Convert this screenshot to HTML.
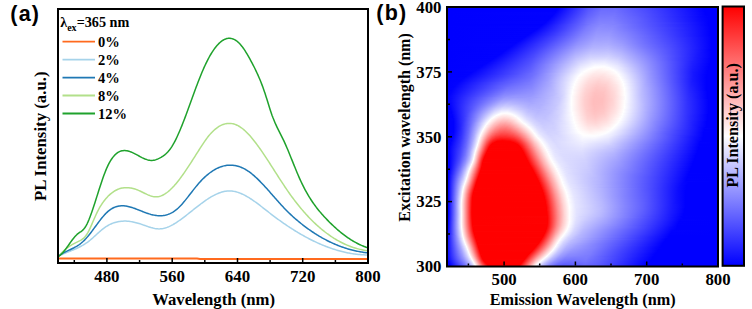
<!DOCTYPE html><html><head><meta charset="utf-8"><style>
html,body{margin:0;padding:0;background:#fff;width:752px;height:309px;overflow:hidden}
#w{position:relative;width:752px;height:309px}
#hm{position:absolute;left:447px;top:7px;width:271px;height:260px;overflow:hidden}
#hm div{height:1px}
</style></head><body><div id="w"><div id="hm"><div style="background:linear-gradient(90deg,#0000ff 0px,#0202ff 112.5px,#5353ff 141.5px,#6969ff 154.5px,#6a6aff 168.5px,#4b4bff 197.5px,#0000ff 256.5px,#0000ff 271px)"></div><div style="background:linear-gradient(90deg,#0000ff 0px,#0101ff 111.5px,#5555ff 141.5px,#6a6aff 154.5px,#6b6bff 168.5px,#4b4bff 198.5px,#0000ff 256.5px,#0000ff 271px)"></div><div style="background:linear-gradient(90deg,#0000ff 0px,#0101ff 110.5px,#5757ff 141.5px,#6c6cff 154.5px,#6c6cff 168.5px,#4b4bff 199.5px,#0000ff 257.5px,#0000ff 271px)"></div><div style="background:linear-gradient(90deg,#0000ff 0px,#0000ff 109.5px,#5959ff 141.5px,#6e6eff 154.5px,#6e6eff 168.5px,#4a4aff 200.5px,#0000ff 257.5px,#0000ff 271px)"></div><div style="background:linear-gradient(90deg,#0000ff 0px,#0000ff 108.5px,#5b5bff 141.5px,#7070ff 154.5px,#6f6fff 168.5px,#4a4aff 201.5px,#0000ff 257.5px,#0000ff 271px)"></div><div style="background:linear-gradient(90deg,#0000ff 0px,#0202ff 108.5px,#5d5dff 141.5px,#7171ff 153.5px,#7171ff 167.5px,#5151ff 196.5px,#0000ff 258.5px,#0000ff 271px)"></div><div style="background:linear-gradient(90deg,#0000ff 0px,#0202ff 107.5px,#5f5fff 141.5px,#7272ff 153.5px,#7373ff 167.5px,#5151ff 197.5px,#0000ff 258.5px,#0000ff 271px)"></div><div style="background:linear-gradient(90deg,#0000ff 0px,#0202ff 106.5px,#6161ff 141.5px,#7474ff 153.5px,#7474ff 167.5px,#5151ff 198.5px,#0000ff 258.5px,#0000ff 271px)"></div><div style="background:linear-gradient(90deg,#0000ff 0px,#0101ff 105.5px,#6161ff 140.5px,#7676ff 153.5px,#7676ff 167.5px,#4f4fff 200.5px,#0000ff 259.5px,#0000ff 271px)"></div><div style="background:linear-gradient(90deg,#0000ff 0px,#0101ff 104.5px,#6363ff 140.5px,#7777ff 152.5px,#7878ff 165.5px,#5e5eff 189.5px,#0404ff 255.5px,#0000ff 262.5px,#0000ff 271px)"></div><div style="background:linear-gradient(90deg,#0000ff 0px,#0101ff 103.5px,#6565ff 140.5px,#7979ff 152.5px,#7a7aff 165.5px,#5e5eff 190.5px,#0606ff 254.5px,#0000ff 260.5px,#0000ff 271px)"></div><div style="background:linear-gradient(90deg,#0000ff 0px,#0101ff 102.5px,#6868ff 140.5px,#7b7bff 152.5px,#7b7bff 165.5px,#5f5fff 190.5px,#0707ff 254.5px,#0000ff 261.5px,#0000ff 271px)"></div><div style="background:linear-gradient(90deg,#0000ff 0px,#0101ff 101.5px,#6a6aff 140.5px,#7d7dff 152.5px,#7d7dff 165.5px,#6060ff 190.5px,#0707ff 254.5px,#0000ff 261.5px,#0000ff 271px)"></div><div style="background:linear-gradient(90deg,#0000ff 0px,#0101ff 100.5px,#6c6cff 140.5px,#7e7eff 152.5px,#7e7eff 165.5px,#6060ff 191.5px,#0909ff 253.5px,#0000ff 261.5px,#0000ff 271px)"></div><div style="background:linear-gradient(90deg,#0000ff 0px,#0202ff 99.5px,#6e6eff 140.5px,#8080ff 152.5px,#8080ff 165.5px,#6060ff 191.5px,#0b0bff 252.5px,#0000ff 261.5px,#0000ff 271px)"></div><div style="background:linear-gradient(90deg,#0000ff 0px,#0202ff 98.5px,#7070ff 140.5px,#8282ff 152.5px,#8181ff 166.5px,#3838ff 222.5px,#0000ff 261.5px,#0000ff 271px)"></div><div style="background:linear-gradient(90deg,#0000ff 0px,#0202ff 97.5px,#7373ff 140.5px,#8484ff 152.5px,#8282ff 166.5px,#3131ff 228.5px,#0000ff 261.5px,#0000ff 271px)"></div><div style="background:linear-gradient(90deg,#0000ff 0px,#0000ff 95.5px,#4d4dff 124.5px,#7e7eff 145.5px,#8888ff 156.5px,#7f7fff 171.5px,#1313ff 248.5px,#0000ff 261.5px,#0000ff 271px)"></div><div style="background:linear-gradient(90deg,#0000ff 0px,#0101ff 94.5px,#3d3dff 117.5px,#7b7bff 142.5px,#8989ff 153.5px,#8585ff 167.5px,#1a1aff 244.5px,#0000ff 261.5px,#0000ff 271px)"></div><div style="background:linear-gradient(90deg,#0000ff 0px,#0202ff 93.5px,#3a3aff 115.5px,#7c7cff 141.5px,#8a8aff 152.5px,#8787ff 166.5px,#1c1cff 243.5px,#0000ff 262.5px,#0000ff 271px)"></div><div style="background:linear-gradient(90deg,#0000ff 0px,#0303ff 92.5px,#3737ff 113.5px,#7c7cff 140.5px,#8c8cff 151.5px,#8989ff 165.5px,#3535ff 227.5px,#0000ff 262.5px,#0000ff 271px)"></div><div style="background:linear-gradient(90deg,#0000ff 0px,#0101ff 90.5px,#3434ff 111.5px,#7c7cff 139.5px,#8e8eff 151.5px,#8b8bff 165.5px,#3030ff 231.5px,#0000ff 262.5px,#0000ff 271px)"></div><div style="background:linear-gradient(90deg,#0000ff 0px,#0202ff 89.5px,#3434ff 110.5px,#7c7cff 138.5px,#8f8fff 150.5px,#8d8dff 164.5px,#6f6fff 187.5px,#1919ff 246.5px,#0000ff 262.5px,#0000ff 271px)"></div><div style="background:linear-gradient(90deg,#0000ff 0px,#0101ff 87.5px,#3434ff 109.5px,#7c7cff 137.5px,#9191ff 150.5px,#8f8fff 164.5px,#7171ff 186.5px,#1b1bff 245.5px,#0000ff 263.5px,#0000ff 271px)"></div><div style="background:linear-gradient(90deg,#0000ff 0px,#0202ff 86.5px,#3737ff 109.5px,#7f7fff 137.5px,#9393ff 150.5px,#9191ff 164.5px,#7373ff 186.5px,#1d1dff 244.5px,#0000ff 263.5px,#0000ff 271px)"></div><div style="background:linear-gradient(90deg,#0000ff 0px,#0101ff 84.5px,#3838ff 108.5px,#7f7fff 136.5px,#9494ff 149.5px,#9494ff 162.5px,#7e7eff 180.5px,#1919ff 247.5px,#0000ff 263.5px,#0000ff 271px)"></div><div style="background:linear-gradient(90deg,#0000ff 0px,#0202ff 83.5px,#3b3bff 108.5px,#8181ff 136.5px,#9696ff 149.5px,#9696ff 162.5px,#7f7fff 180.5px,#1919ff 247.5px,#0000ff 263.5px,#0000ff 271px)"></div><div style="background:linear-gradient(90deg,#0000ff 0px,#0101ff 81.5px,#3b3bff 107.5px,#8282ff 135.5px,#9898ff 149.5px,#9898ff 162.5px,#8181ff 180.5px,#1b1bff 246.5px,#0000ff 263.5px,#0000ff 271px)"></div><div style="background:linear-gradient(90deg,#0000ff 0px,#0202ff 80.5px,#3e3eff 107.5px,#8484ff 135.5px,#9a9aff 149.5px,#9999ff 162.5px,#8484ff 179.5px,#5959ff 207.5px,#0000ff 263.5px,#0000ff 271px)"></div><div style="background:linear-gradient(90deg,#0000ff 0px,#0101ff 78.5px,#4242ff 107.5px,#8585ff 134.5px,#9b9bff 148.5px,#9c9cff 161.5px,#8787ff 178.5px,#5f5fff 204.5px,#1515ff 250.5px,#0000ff 264.5px,#0000ff 271px)"></div><div style="background:linear-gradient(90deg,#0000ff 0px,#0202ff 77.5px,#4545ff 107.5px,#8787ff 134.5px,#9d9dff 148.5px,#9e9eff 161.5px,#8a8aff 177.5px,#6262ff 202.5px,#2424ff 242.5px,#0000ff 264.5px,#0000ff 271px)"></div><div style="background:linear-gradient(90deg,#0000ff 0px,#0101ff 75.5px,#4646ff 106.5px,#8888ff 133.5px,#9f9fff 148.5px,#a0a0ff 161.5px,#8c8cff 177.5px,#6565ff 201.5px,#2d2dff 237.5px,#0000ff 264.5px,#0000ff 271px)"></div><div style="background:linear-gradient(90deg,#0000ff 0px,#0202ff 74.5px,#4646ff 105.5px,#8b8bff 133.5px,#a1a1ff 148.5px,#a1a1ff 162.5px,#8c8cff 178.5px,#6868ff 200.5px,#3232ff 234.5px,#0000ff 264.5px,#0000ff 271px)"></div><div style="background:linear-gradient(90deg,#0000ff 0px,#0101ff 72.5px,#4747ff 104.5px,#8b8bff 132.5px,#a2a2ff 147.5px,#a4a4ff 161.5px,#9292ff 176.5px,#6c6cff 198.5px,#3a3aff 230.5px,#0000ff 264.5px,#0000ff 271px)"></div><div style="background:linear-gradient(90deg,#0000ff 0px,#0202ff 71.5px,#4848ff 103.5px,#8e8eff 132.5px,#a5a5ff 147.5px,#a6a6ff 161.5px,#9494ff 176.5px,#6d6dff 198.5px,#3c3cff 229.5px,#0000ff 264.5px,#0000ff 271px)"></div><div style="background:linear-gradient(90deg,#0000ff 0px,#0101ff 69.5px,#4444ff 100.5px,#8f8fff 131.5px,#a7a7ff 147.5px,#a8a8ff 161.5px,#9696ff 176.5px,#7070ff 197.5px,#4141ff 227.5px,#0000ff 264.5px,#0000ff 271px)"></div><div style="background:linear-gradient(90deg,#0000ff 0px,#0202ff 68.5px,#4545ff 99.5px,#9090ff 130.5px,#a9a9ff 146.5px,#ababff 160.5px,#9b9bff 174.5px,#7171ff 197.5px,#4343ff 226.5px,#0000ff 264.5px,#0000ff 271px)"></div><div style="background:linear-gradient(90deg,#0000ff 0px,#0303ff 67.5px,#4646ff 98.5px,#9393ff 130.5px,#ababff 146.5px,#adadff 160.5px,#9e9eff 174.5px,#7373ff 197.5px,#4646ff 225.5px,#0000ff 264.5px,#0000ff 271px)"></div><div style="background:linear-gradient(90deg,#0000ff 0px,#0202ff 65.5px,#4141ff 95.5px,#9696ff 130.5px,#aeaeff 146.5px,#afafff 161.5px,#9e9eff 175.5px,#7575ff 197.5px,#4949ff 224.5px,#0000ff 264.5px,#0000ff 271px)"></div><div style="background:linear-gradient(90deg,#0000ff 0px,#0202ff 64.5px,#4242ff 94.5px,#9898ff 129.5px,#b0b0ff 146.5px,#b2b2ff 161.5px,#a1a1ff 175.5px,#7676ff 197.5px,#4949ff 224.5px,#0000ff 264.5px,#0000ff 271px)"></div><div style="background:linear-gradient(90deg,#0000ff 0px,#0101ff 62.5px,#4040ff 92.5px,#9b9bff 129.5px,#b2b2ff 145.5px,#b5b5ff 160.5px,#a5a5ff 174.5px,#7878ff 197.5px,#4c4cff 223.5px,#0000ff 264.5px,#0000ff 271px)"></div><div style="background:linear-gradient(90deg,#0000ff 0px,#0202ff 61.5px,#4141ff 91.5px,#9e9eff 129.5px,#b5b5ff 145.5px,#b7b7ff 161.5px,#a6a6ff 175.5px,#7a7aff 197.5px,#4d4dff 223.5px,#0000ff 264.5px,#0000ff 271px)"></div><div style="background:linear-gradient(90deg,#0000ff 0px,#0101ff 59.5px,#4141ff 90.5px,#a0a0ff 128.5px,#b8b8ff 144.5px,#bbbbff 160.5px,#acacff 173.5px,#7b7bff 198.5px,#4e4eff 223.5px,#0000ff 263.5px,#0000ff 271px)"></div><div style="background:linear-gradient(90deg,#0000ff 0px,#0202ff 58.5px,#4242ff 89.5px,#a3a3ff 128.5px,#bbbbff 144.5px,#bdbdff 161.5px,#adadff 174.5px,#7b7bff 199.5px,#4f4fff 223.5px,#0000ff 263.5px,#0000ff 271px)"></div><div style="background:linear-gradient(90deg,#0000ff 0px,#0101ff 56.5px,#4242ff 88.5px,#a6a6ff 128.5px,#bebeff 144.5px,#c0c0ff 161.5px,#b0b0ff 174.5px,#7d7dff 199.5px,#4f4fff 223.5px,#0606ff 260.5px,#0000ff 265.5px,#0000ff 271px)"></div><div style="background:linear-gradient(90deg,#0000ff 0px,#0202ff 55.5px,#4545ff 88.5px,#aaaaff 128.5px,#c1c1ff 143.5px,#c4c4ff 160.5px,#b5b5ff 173.5px,#7d7dff 200.5px,#5050ff 223.5px,#0f0fff 255.5px,#0000ff 264.5px,#0000ff 271px)"></div><div style="background:linear-gradient(90deg,#0000ff 0px,#0202ff 54.5px,#4545ff 87.5px,#adadff 128.5px,#c4c4ff 143.5px,#c7c7ff 161.5px,#b6b6ff 174.5px,#7d7dff 201.5px,#4e4eff 224.5px,#1313ff 253.5px,#0000ff 264.5px,#0000ff 271px)"></div><div style="background:linear-gradient(90deg,#0000ff 0px,#0101ff 52.5px,#4848ff 87.5px,#b1b1ff 128.5px,#c8c8ff 143.5px,#cacaff 161.5px,#b9b9ff 174.5px,#7f7fff 201.5px,#5151ff 223.5px,#1818ff 250.5px,#0000ff 264.5px,#0000ff 271px)"></div><div style="background:linear-gradient(90deg,#0000ff 0px,#0202ff 51.5px,#4848ff 86.5px,#b4b4ff 128.5px,#ccccff 143.5px,#ceceff 161.5px,#bcbcff 174.5px,#7f7fff 202.5px,#5050ff 224.5px,#1818ff 250.5px,#0000ff 264.5px,#0000ff 271px)"></div><div style="background:linear-gradient(90deg,#0000ff 0px,#0101ff 49.5px,#4a4aff 86.5px,#b8b8ff 128.5px,#cfcfff 143.5px,#d1d1ff 161.5px,#bfbfff 174.5px,#8181ff 202.5px,#5353ff 223.5px,#1c1cff 248.5px,#0000ff 264.5px,#0000ff 271px)"></div><div style="background:linear-gradient(90deg,#0000ff 0px,#0202ff 48.5px,#4a4aff 85.5px,#bdbdff 129.5px,#d3d3ff 143.5px,#d6d6ff 160.5px,#c6c6ff 172.5px,#8080ff 203.5px,#4e4eff 225.5px,#1b1bff 248.5px,#0000ff 264.5px,#0000ff 271px)"></div><div style="background:linear-gradient(90deg,#0000ff 0px,#0101ff 46.5px,#4d4dff 85.5px,#c1c1ff 129.5px,#d7d7ff 143.5px,#dadaff 159.5px,#cbcbff 171.5px,#8080ff 204.5px,#4747ff 228.5px,#1717ff 250.5px,#0000ff 263.5px,#0000ff 271px)"></div><div style="background:linear-gradient(90deg,#0000ff 0px,#0202ff 45.5px,#4f4fff 85.5px,#c4c4ff 129.5px,#dbdbff 143.5px,#dfdfff 158.5px,#d1d1ff 170.5px,#8181ff 204.5px,#4747ff 228.5px,#1919ff 249.5px,#0000ff 263.5px,#0000ff 271px)"></div><div style="background:linear-gradient(90deg,#0000ff 0px,#0101ff 43.5px,#4f4fff 84.5px,#cacaff 130.5px,#e1e1ff 144.5px,#e3e3ff 158.5px,#d4d4ff 170.5px,#8383ff 204.5px,#4545ff 229.5px,#1818ff 249.5px,#0000ff 263.5px,#0000ff 271px)"></div><div style="background:linear-gradient(90deg,#0000ff 0px,#0202ff 42.5px,#5151ff 84.5px,#ceceff 130.5px,#e5e5ff 144.5px,#e8e8ff 157.5px,#d8d8ff 170.5px,#8282ff 205.5px,#1f1fff 245.5px,#0000ff 263.5px,#0000ff 271px)"></div><div style="background:linear-gradient(90deg,#0000ff 0px,#0202ff 40.5px,#5353ff 84.5px,#d3d3ff 131.5px,#eaeaff 145.5px,#ececff 157.5px,#dbdbff 170.5px,#8383ff 205.5px,#1f1fff 245.5px,#0000ff 263.5px,#0000ff 271px)"></div><div style="background:linear-gradient(90deg,#0000ff 0px,#0202ff 39.5px,#5353ff 83.5px,#d9d9ff 132.5px,#efefff 146.5px,#f0f0ff 157.5px,#dfdfff 170.5px,#8484ff 205.5px,#1e1eff 245.5px,#0000ff 262.5px,#0000ff 271px)"></div><div style="background:linear-gradient(90deg,#0000ff 0px,#0202ff 37.5px,#5555ff 83.5px,#a1a1ff 110.5px,#e1e1ff 134.5px,#f5f5ff 148.5px,#f3f3ff 159.5px,#dedeff 172.5px,#8888ff 204.5px,#1e1eff 245.5px,#0000ff 262.5px,#0000ff 271px)"></div><div style="background:linear-gradient(90deg,#0000ff 0px,#0101ff 35.5px,#5757ff 83.5px,#9797ff 106.5px,#e2e2ff 133.5px,#f8f8ff 147.5px,#f9f9ff 157.5px,#e6e6ff 170.5px,#8989ff 204.5px,#1d1dff 245.5px,#0000ff 262.5px,#0000ff 271px)"></div><div style="background:linear-gradient(90deg,#0000ff 0px,#0202ff 34.5px,#5959ff 83.5px,#9393ff 104.5px,#e6e6ff 133.5px,#fcfcff 147.5px,#fdfdff 157.5px,#e9e9ff 170.5px,#8a8aff 204.5px,#1c1cff 245.5px,#0000ff 261.5px,#0000ff 271px)"></div><div style="background:linear-gradient(90deg,#0000ff 0px,#0101ff 32.5px,#5b5bff 83.5px,#8f8fff 102.5px,#e9e9ff 133.5px,#ffffff 146.5px,#fffcfc 156.5px,#fdfdff 161.5px,#e5e5ff 173.5px,#8d8dff 203.5px,#1c1cff 245.5px,#0000ff 261.5px,#0000ff 271px)"></div><div style="background:linear-gradient(90deg,#0000ff 0px,#0202ff 31.5px,#5d5dff 83.5px,#8e8eff 101.5px,#ededff 133.5px,#ffffff 143.5px,#fff8f8 154.5px,#fdfdff 163.5px,#e2e2ff 175.5px,#8e8eff 203.5px,#1b1bff 245.5px,#0000ff 261.5px,#0000ff 271px)"></div><div style="background:linear-gradient(90deg,#0000ff 0px,#0202ff 29.5px,#5f5fff 83.5px,#9090ff 101.5px,#f0f0ff 133.5px,#fffefe 141.5px,#fff4f4 152.5px,#fffdfd 163.5px,#fcfcff 166.5px,#d5d5ff 180.5px,#8f8fff 203.5px,#1a1aff 245.5px,#0000ff 261.5px,#0000ff 271px)"></div><div style="background:linear-gradient(90deg,#0000ff 0px,#0303ff 28.5px,#6161ff 83.5px,#9292ff 101.5px,#f3f3ff 133.5px,#fffefe 139.5px,#fff1f1 151.5px,#fff8f8 162.5px,#ffffff 166.5px,#d7d7ff 180.5px,#9090ff 203.5px,#1a1aff 245.5px,#0000ff 260.5px,#0000ff 271px)"></div><div style="background:linear-gradient(90deg,#0000ff 0px,#0202ff 26.5px,#6363ff 83.5px,#9090ff 100.5px,#f8f8ff 134.5px,#ffffff 137.5px,#ffeeee 149.5px,#fff1f1 159.5px,#fefeff 168.5px,#c2c2ff 187.5px,#8383ff 208.5px,#1919ff 245.5px,#0000ff 260.5px,#0000ff 271px)"></div><div style="background:linear-gradient(90deg,#0000ff 0px,#0101ff 24.5px,#6565ff 83.5px,#9292ff 100.5px,#fbfbff 134.5px,#fffcfc 137.5px,#ffebeb 149.5px,#ffeeee 159.5px,#fefeff 169.5px,#8f8fff 204.5px,#1616ff 246.5px,#0000ff 260.5px,#0000ff 271px)"></div><div style="background:linear-gradient(90deg,#0000ff 0px,#0202ff 23.5px,#5050ff 70.5px,#7575ff 89.5px,#cdcdff 118.5px,#fefeff 134.5px,#ffe9e9 147.5px,#ffe9e9 157.5px,#fffdfd 169.5px,#fbfbff 171.5px,#9292ff 203.5px,#1616ff 246.5px,#0000ff 260.5px,#0000ff 271px)"></div><div style="background:linear-gradient(90deg,#0000ff 0px,#0101ff 21.5px,#4f4fff 68.5px,#7272ff 87.5px,#afafff 108.5px,#ffffff 133.5px,#ffe7e7 146.5px,#ffe5e5 156.5px,#fff6f6 167.5px,#fefeff 171.5px,#9393ff 203.5px,#1616ff 246.5px,#0000ff 259.5px,#0000ff 271px)"></div><div style="background:linear-gradient(90deg,#0000ff 0px,#0202ff 20.5px,#5050ff 66.5px,#6f6fff 85.5px,#a0a0ff 103.5px,#ffffff 132.5px,#ffe5e5 145.5px,#ffe2e2 155.5px,#fff1f1 166.5px,#fffefe 171.5px,#e9e9ff 178.5px,#9797ff 202.5px,#1616ff 246.5px,#0000ff 259.5px,#0000ff 271px)"></div><div style="background:linear-gradient(90deg,#0000ff 0px,#0101ff 18.5px,#5252ff 66.5px,#6f6fff 84.5px,#9f9fff 102.5px,#fefeff 131.5px,#ffe4e4 144.5px,#ffdede 154.5px,#ffecec 165.5px,#ffffff 172.5px,#9898ff 202.5px,#1616ff 246.5px,#0000ff 259.5px,#0000ff 271px)"></div><div style="background:linear-gradient(90deg,#0000ff 0px,#0202ff 17.5px,#5454ff 65.5px,#6f6fff 83.5px,#9d9dff 101.5px,#fdfdff 130.5px,#fff5f5 134.5px,#ffdede 146.5px,#ffdddd 156.5px,#ffefef 167.5px,#fefeff 173.5px,#9898ff 202.5px,#1616ff 246.5px,#0000ff 259.5px,#0000ff 271px)"></div><div style="background:linear-gradient(90deg,#0000ff 0px,#0303ff 16.5px,#5656ff 64.5px,#7171ff 83.5px,#9e9eff 101.5px,#ffffff 130.5px,#ffe1e1 142.5px,#ffd9d9 152.5px,#ffe2e2 162.5px,#fffefe 173.5px,#e3e3ff 181.5px,#9999ff 202.5px,#1818ff 245.5px,#0000ff 259.5px,#0000ff 271px)"></div><div style="background:linear-gradient(90deg,#0000ff 0px,#0202ff 14.5px,#5858ff 63.5px,#7272ff 82.5px,#9d9dff 100.5px,#e5e5ff 122.5px,#fefeff 129.5px,#ffdfdf 142.5px,#ffd6d6 152.5px,#ffe0e0 162.5px,#ffffff 174.5px,#9d9dff 201.5px,#1818ff 245.5px,#0000ff 259.5px,#0000ff 271px)"></div><div style="background:linear-gradient(90deg,#0000ff 0px,#0202ff 13.5px,#5b5bff 63.5px,#7474ff 82.5px,#9e9eff 100.5px,#dfdfff 120.5px,#fffefe 129.5px,#ffdede 141.5px,#ffd4d4 151.5px,#ffdcdc 161.5px,#fff7f7 172.5px,#fffefe 174.5px,#eeeeff 179.5px,#a1a1ff 200.5px,#1919ff 245.5px,#0000ff 259.5px,#0000ff 271px)"></div><div style="background:linear-gradient(90deg,#0000ff 0px,#0202ff 12.5px,#5d5dff 62.5px,#7676ff 82.5px,#a0a0ff 100.5px,#ddddff 119.5px,#fefeff 128.5px,#ffdcdc 141.5px,#ffd1d1 151.5px,#ffdada 161.5px,#fff5f5 172.5px,#ffffff 175.5px,#a2a2ff 200.5px,#1919ff 245.5px,#0000ff 259.5px,#0000ff 271px)"></div><div style="background:linear-gradient(90deg,#0000ff 0px,#0303ff 11.5px,#5454ff 54.5px,#6565ff 67.5px,#7e7eff 85.5px,#acacff 104.5px,#e6e6ff 121.5px,#fffefe 128.5px,#ffdcdc 140.5px,#ffd0d0 150.5px,#ffd6d6 160.5px,#fff0f0 171.5px,#fffefe 175.5px,#a2a2ff 200.5px,#1c1cff 244.5px,#0000ff 259.5px,#0000ff 271px)"></div><div style="background:linear-gradient(90deg,#0000ff 0px,#0303ff 10.5px,#5555ff 53.5px,#6767ff 65.5px,#7e7eff 84.5px,#aaaaff 103.5px,#dfdfff 119.5px,#fefeff 127.5px,#ffd8d8 141.5px,#ffcdcd 151.5px,#ffd6d6 161.5px,#fff6f6 173.5px,#fefeff 176.5px,#aaaaff 198.5px,#1d1dff 244.5px,#0000ff 259.5px,#0000ff 271px)"></div><div style="background:linear-gradient(90deg,#0000ff 0px,#0303ff 9.5px,#5656ff 52.5px,#6969ff 64.5px,#7e7eff 83.5px,#a9a9ff 102.5px,#dcdcff 118.5px,#ffffff 127.5px,#ffdada 139.5px,#ffcccc 149.5px,#ffcfcf 158.5px,#ffe7e7 169.5px,#ffffff 176.5px,#aaaaff 198.5px,#1d1dff 244.5px,#0000ff 259.5px,#0000ff 271px)"></div><div style="background:linear-gradient(90deg,#0000ff 0px,#0303ff 8.5px,#5a5aff 52.5px,#6c6cff 64.5px,#8282ff 84.5px,#acacff 103.5px,#ddddff 118.5px,#fffefe 127.5px,#ffd8d8 139.5px,#ffcaca 149.5px,#ffcece 158.5px,#ffe6e6 169.5px,#fffefe 176.5px,#ababff 198.5px,#1e1eff 244.5px,#0000ff 259.5px,#0000ff 271px)"></div><div style="background:linear-gradient(90deg,#0000ff 0px,#0202ff 7.5px,#5d5dff 52.5px,#7070ff 64.5px,#8484ff 84.5px,#adadff 103.5px,#d9d9ff 117.5px,#fefeff 126.5px,#ffd5d5 140.5px,#ffc8c8 150.5px,#ffcece 159.5px,#ffe8e8 170.5px,#fffdfd 176.5px,#f9f9ff 178.5px,#afafff 197.5px,#2121ff 243.5px,#0000ff 259.5px,#0000ff 271px)"></div><div style="background:linear-gradient(90deg,#0000ff 0px,#0202ff 6.5px,#6f6fff 60.5px,#8686ff 84.5px,#b1b1ff 104.5px,#dadaff 117.5px,#ffffff 126.5px,#ffd8d8 138.5px,#ffc7c7 148.5px,#ffc9c9 157.5px,#ffe1e1 168.5px,#fefeff 177.5px,#b3b3ff 196.5px,#2222ff 243.5px,#0000ff 259.5px,#0000ff 271px)"></div><div style="background:linear-gradient(90deg,#0000ff 0px,#0404ff 6.5px,#7272ff 60.5px,#8888ff 84.5px,#b2b2ff 104.5px,#dadaff 117.5px,#fffefe 126.5px,#ffd6d6 138.5px,#ffc6c6 148.5px,#ffc8c8 157.5px,#ffe0e0 168.5px,#ffffff 177.5px,#b7b7ff 195.5px,#2525ff 242.5px,#0000ff 259.5px,#0000ff 271px)"></div><div style="background:linear-gradient(90deg,#0000ff 0px,#0303ff 5.5px,#7575ff 59.5px,#8c8cff 85.5px,#b7b7ff 106.5px,#dbdbff 117.5px,#fdfdff 125.5px,#fff9f9 127.5px,#ffd2d2 139.5px,#ffc4c4 149.5px,#ffc8c8 158.5px,#ffe2e2 169.5px,#fffefe 177.5px,#b7b7ff 195.5px,#2626ff 242.5px,#0000ff 259.5px,#0000ff 271px)"></div><div style="background:linear-gradient(90deg,#0000ff 0px,#0202ff 4.5px,#7878ff 59.5px,#8e8eff 85.5px,#b8b8ff 106.5px,#dbdbff 117.5px,#fdfdff 125.5px,#ffd1d1 139.5px,#ffc2c2 149.5px,#ffc7c7 158.5px,#ffe1e1 169.5px,#fffefe 177.5px,#b8b8ff 195.5px,#2626ff 242.5px,#0000ff 259.5px,#0000ff 271px)"></div><div style="background:linear-gradient(90deg,#0000ff 0px,#0303ff 4.5px,#7b7bff 58.5px,#9090ff 85.5px,#b9b9ff 106.5px,#d7d7ff 116.5px,#fefeff 125.5px,#ffd3d3 138.5px,#ffc2c2 148.5px,#ffc4c4 157.5px,#ffdddd 168.5px,#fffdfd 177.5px,#f0f0ff 181.5px,#b8b8ff 195.5px,#2727ff 242.5px,#0000ff 260.5px,#0000ff 271px)"></div><div style="background:linear-gradient(90deg,#0000ff 0px,#0404ff 4.5px,#7f7fff 58.5px,#9292ff 85.5px,#bcbcff 107.5px,#dbdbff 117.5px,#ffffff 125.5px,#ffd4d4 137.5px,#ffc1c1 147.5px,#ffc2c2 156.5px,#ffdada 167.5px,#fffdfd 177.5px,#f8f8ff 179.5px,#bcbcff 194.5px,#2727ff 242.5px,#0000ff 260.5px,#0000ff 271px)"></div><div style="background:linear-gradient(90deg,#0000ff 0px,#0303ff 3.5px,#8282ff 57.5px,#8a8aff 70.5px,#9595ff 86.5px,#c1c1ff 109.5px,#dbdbff 117.5px,#fffefe 125.5px,#ffd3d3 137.5px,#ffc0c0 147.5px,#ffc2c2 156.5px,#ffd9d9 167.5px,#fffdfd 177.5px,#f9f9ff 179.5px,#bcbcff 194.5px,#2b2bff 241.5px,#0000ff 260.5px,#0000ff 271px)"></div><div style="background:linear-gradient(90deg,#0000ff 0px,#0404ff 3.5px,#8686ff 57.5px,#8e8eff 69.5px,#9696ff 85.5px,#bdbdff 107.5px,#d7d7ff 116.5px,#fcfcff 124.5px,#fffdfd 125.5px,#ffd2d2 137.5px,#ffc0c0 147.5px,#ffc1c1 156.5px,#ffd9d9 167.5px,#fffdfd 177.5px,#f9f9ff 179.5px,#bcbcff 194.5px,#2b2bff 241.5px,#0000ff 260.5px,#0000ff 271px)"></div><div style="background:linear-gradient(90deg,#0000ff 0px,#0808ff 4.5px,#8989ff 56.5px,#9292ff 67.5px,#9797ff 84.5px,#b9b9ff 105.5px,#d3d3ff 115.5px,#fdfdff 124.5px,#fff8f8 126.5px,#ffcfcf 138.5px,#ffbebe 148.5px,#ffc2c2 157.5px,#ffdbdb 168.5px,#fffdfd 177.5px,#fdfdff 178.5px,#c0c0ff 193.5px,#2c2cff 241.5px,#0000ff 260.5px,#0000ff 271px)"></div><div style="background:linear-gradient(90deg,#0000ff 0px,#0b0bff 5.5px,#8e8eff 56.5px,#9696ff 66.5px,#9898ff 83.5px,#b3b3ff 101.5px,#d0d0ff 114.5px,#fdfdff 124.5px,#ffcece 138.5px,#ffbebe 147.5px,#ffc0c0 156.5px,#ffd8d8 167.5px,#fdfdff 178.5px,#bdbdff 194.5px,#2c2cff 241.5px,#0000ff 260.5px,#0000ff 271px)"></div><div style="background:linear-gradient(90deg,#0000ff 0px,#0c0cff 5.5px,#8383ff 49.5px,#9797ff 59.5px,#9898ff 75.5px,#a0a0ff 89.5px,#c7c7ff 111.5px,#e0e0ff 118.5px,#fefeff 124.5px,#ffd0d0 137.5px,#ffbebe 147.5px,#ffc0c0 156.5px,#ffd8d8 167.5px,#fdfdff 178.5px,#bdbdff 194.5px,#2d2dff 241.5px,#0000ff 260.5px,#0000ff 271px)"></div><div style="background:linear-gradient(90deg,#0000ff 0px,#0909ff 4.5px,#8585ff 48.5px,#9a9aff 57.5px,#9e9eff 67.5px,#9d9dff 83.5px,#b1b1ff 99.5px,#cdcdff 113.5px,#f4f4ff 122.5px,#fefeff 124.5px,#ffd0d0 137.5px,#ffbebe 146.5px,#ffbebe 155.5px,#ffd2d2 165.5px,#fdfdff 178.5px,#bebeff 194.5px,#3030ff 240.5px,#0000ff 260.5px,#0000ff 271px)"></div><div style="background:linear-gradient(90deg,#0000ff 0px,#0a0aff 4.5px,#8383ff 46.5px,#9e9eff 56.5px,#a3a3ff 65.5px,#9f9fff 82.5px,#aeaeff 96.5px,#cbcbff 112.5px,#ebebff 120.5px,#fefeff 124.5px,#ffcfcf 137.5px,#ffbebe 146.5px,#ffbebe 155.5px,#ffd2d2 165.5px,#fdfdff 178.5px,#bebeff 194.5px,#3030ff 240.5px,#0000ff 261.5px,#0000ff 271px)"></div><div style="background:linear-gradient(90deg,#0000ff 0px,#0a0aff 4.5px,#8282ff 44.5px,#a2a2ff 55.5px,#a8a8ff 64.5px,#a1a1ff 82.5px,#afafff 96.5px,#ccccff 112.5px,#ebebff 120.5px,#ffffff 124.5px,#ffcfcf 137.5px,#ffbdbd 146.5px,#ffbebe 155.5px,#ffd2d2 165.5px,#fffdfd 177.5px,#f9f9ff 179.5px,#bbbbff 195.5px,#3030ff 240.5px,#0000ff 261.5px,#0000ff 271px)"></div><div style="background:linear-gradient(90deg,#0000ff 0px,#0a0aff 4.5px,#7171ff 37.5px,#a6a6ff 54.5px,#aeaeff 62.5px,#a3a3ff 83.5px,#b1b1ff 97.5px,#cdcdff 112.5px,#ececff 120.5px,#ffffff 124.5px,#ffcfcf 137.5px,#ffbdbd 146.5px,#ffbebe 155.5px,#ffd3d3 165.5px,#fffdfd 177.5px,#f9f9ff 179.5px,#b8b8ff 196.5px,#3131ff 240.5px,#0000ff 261.5px,#0000ff 271px)"></div><div style="background:linear-gradient(90deg,#0000ff 0px,#0909ff 4.5px,#6a6aff 34.5px,#aaaaff 53.5px,#b4b4ff 61.5px,#a6a6ff 83.5px,#b1b1ff 96.5px,#cbcbff 111.5px,#e8e8ff 119.5px,#ffffff 124.5px,#ffcfcf 137.5px,#ffbdbd 146.5px,#ffbebe 155.5px,#ffd6d6 166.5px,#fffdfd 177.5px,#f9f9ff 179.5px,#b8b8ff 196.5px,#3131ff 240.5px,#0000ff 261.5px,#0000ff 271px)"></div><div style="background:linear-gradient(90deg,#0000ff 0px,#0505ff 3.5px,#6767ff 32.5px,#aeaeff 52.5px,#babaff 60.5px,#b0b0ff 72.5px,#a8a8ff 85.5px,#b7b7ff 100.5px,#cfcfff 112.5px,#f6f6ff 122.5px,#ffffff 124.5px,#ffcfcf 137.5px,#ffbdbd 146.5px,#ffbfbf 155.5px,#ffd6d6 166.5px,#fffdfd 177.5px,#f0f0ff 181.5px,#b2b2ff 198.5px,#3131ff 240.5px,#0000ff 261.5px,#0000ff 271px)"></div><div style="background:linear-gradient(90deg,#0000ff 0px,#0505ff 3.5px,#6363ff 30.5px,#b5b5ff 52.5px,#c0c0ff 59.5px,#b8b8ff 69.5px,#ababff 82.5px,#b0b0ff 94.5px,#cacaff 110.5px,#e9e9ff 119.5px,#ffffff 124.5px,#ffcfcf 137.5px,#ffbdbd 146.5px,#ffbfbf 155.5px,#ffd7d7 166.5px,#fffefe 177.5px,#b2b2ff 198.5px,#3131ff 240.5px,#0000ff 261.5px,#0000ff 271px)"></div><div style="background:linear-gradient(90deg,#0000ff 0px,#0404ff 3.5px,#5e5eff 28.5px,#b9b9ff 51.5px,#c6c6ff 58.5px,#c1c1ff 67.5px,#adadff 82.5px,#b1b1ff 94.5px,#c8c8ff 109.5px,#e5e5ff 118.5px,#ffffff 124.5px,#ffcfcf 137.5px,#ffbebe 146.5px,#ffc0c0 155.5px,#ffd7d7 166.5px,#fffefe 177.5px,#b2b2ff 198.5px,#3434ff 239.5px,#0000ff 261.5px,#0000ff 271px)"></div><div style="background:linear-gradient(90deg,#0000ff 0px,#0303ff 3.5px,#5d5dff 27.5px,#bdbdff 50.5px,#ccccff 57.5px,#c9c9ff 65.5px,#b0b0ff 81.5px,#b1b1ff 92.5px,#c7c7ff 108.5px,#e5e5ff 118.5px,#fefeff 124.5px,#ffcdcd 138.5px,#ffbdbd 147.5px,#ffc2c2 156.5px,#ffdbdb 167.5px,#ffffff 177.5px,#b1b1ff 198.5px,#3434ff 239.5px,#0000ff 261.5px,#0000ff 271px)"></div><div style="background:linear-gradient(90deg,#0000ff 0px,#0202ff 3.5px,#5b5bff 26.5px,#c1c1ff 49.5px,#d3d3ff 56.5px,#d2d2ff 63.5px,#b3b3ff 81.5px,#b2b2ff 92.5px,#c6c6ff 107.5px,#e2e2ff 117.5px,#fefeff 124.5px,#ffcdcd 138.5px,#ffbebe 147.5px,#ffc2c2 156.5px,#ffdcdc 167.5px,#ffffff 177.5px,#b1b1ff 198.5px,#3434ff 239.5px,#0000ff 261.5px,#0000ff 271px)"></div><div style="background:linear-gradient(90deg,#0000ff 0px,#0101ff 3.5px,#5454ff 24.5px,#c5c5ff 48.5px,#d9d9ff 55.5px,#dadaff 62.5px,#b6b6ff 81.5px,#b3b3ff 92.5px,#c6c6ff 107.5px,#e2e2ff 117.5px,#fefeff 124.5px,#ffcece 138.5px,#ffbebe 147.5px,#ffc3c3 156.5px,#ffdddd 167.5px,#fefeff 177.5px,#b1b1ff 198.5px,#3434ff 239.5px,#0000ff 261.5px,#0000ff 271px)"></div><div style="background:linear-gradient(90deg,#0000ff 0px,#0000ff 3.5px,#5151ff 23.5px,#ccccff 48.5px,#e1e1ff 55.5px,#e2e2ff 61.5px,#c6c6ff 74.5px,#b5b5ff 85.5px,#b8b8ff 97.5px,#cdcdff 110.5px,#f2f2ff 121.5px,#fefeff 124.5px,#ffcbcb 139.5px,#ffbfbf 147.5px,#ffc4c4 156.5px,#ffdede 167.5px,#fffdfd 176.5px,#f5f5ff 179.5px,#aaaaff 200.5px,#3434ff 239.5px,#0000ff 261.5px,#0000ff 271px)"></div><div style="background:linear-gradient(90deg,#0000ff 0px,#0303ff 4.5px,#4e4eff 22.5px,#cfcfff 47.5px,#e7e7ff 54.5px,#eaeaff 60.5px,#d8d8ff 69.5px,#bcbcff 81.5px,#b5b5ff 91.5px,#c2c2ff 104.5px,#dcdcff 115.5px,#fdfdff 124.5px,#fff1f1 128.5px,#ffcaca 140.5px,#ffc0c0 148.5px,#ffc7c7 157.5px,#ffe5e5 169.5px,#fffefe 176.5px,#a7a7ff 201.5px,#3434ff 239.5px,#0000ff 261.5px,#0000ff 271px)"></div><div style="background:linear-gradient(90deg,#0000ff 0px,#0101ff 4.5px,#4b4bff 21.5px,#d7d7ff 47.5px,#efefff 54.5px,#f2f2ff 60.5px,#dedeff 69.5px,#bebeff 81.5px,#b7b7ff 91.5px,#c3c3ff 104.5px,#dcdcff 115.5px,#fdfdff 124.5px,#fff9f9 126.5px,#ffcdcd 139.5px,#ffc1c1 147.5px,#ffc6c6 156.5px,#ffe3e3 168.5px,#ffffff 176.5px,#a9a9ff 200.5px,#3434ff 239.5px,#0000ff 261.5px,#0000ff 271px)"></div><div style="background:linear-gradient(90deg,#0000ff 0px,#0000ff 4.5px,#4747ff 20.5px,#dedeff 47.5px,#f7f7ff 54.5px,#fafaff 60.5px,#e7e7ff 68.5px,#c3c3ff 80.5px,#b8b8ff 90.5px,#c0c0ff 102.5px,#dadaff 114.5px,#fffefe 125.5px,#ffcece 139.5px,#ffc2c2 147.5px,#ffc8c8 156.5px,#ffe5e5 168.5px,#fefeff 176.5px,#a8a8ff 200.5px,#3434ff 239.5px,#0000ff 261.5px,#0000ff 271px)"></div><div style="background:linear-gradient(90deg,#0000ff 0px,#0000ff 4.5px,#3e3eff 18.5px,#9494ff 33.5px,#e1e1ff 46.5px,#fdfdff 53.5px,#fffcfc 56.5px,#fcfcff 63.5px,#c7c7ff 80.5px,#babaff 90.5px,#c1c1ff 102.5px,#dadaff 114.5px,#fffefe 125.5px,#ffcfcf 139.5px,#ffc3c3 147.5px,#ffc9c9 156.5px,#ffe6e6 168.5px,#fffefe 175.5px,#9e9eff 203.5px,#3131ff 240.5px,#0000ff 261.5px,#0000ff 271px)"></div><div style="background:linear-gradient(90deg,#0000ff 0px,#0202ff 5.5px,#4444ff 19.5px,#9f9fff 34.5px,#e9e9ff 46.5px,#ffffff 51.5px,#fff3f3 57.5px,#fffbfb 63.5px,#fdfdff 65.5px,#ccccff 79.5px,#bcbcff 89.5px,#c0c0ff 100.5px,#d5d5ff 112.5px,#ffffff 125.5px,#ffd0d0 139.5px,#ffc4c4 147.5px,#ffcccc 157.5px,#ffeeee 170.5px,#ffffff 175.5px,#a4a4ff 201.5px,#3131ff 240.5px,#0000ff 260.5px,#0000ff 271px)"></div><div style="background:linear-gradient(90deg,#0000ff 0px,#0101ff 5.5px,#3f3fff 18.5px,#9696ff 32.5px,#ebebff 45.5px,#ffffff 49.5px,#ffeded 55.5px,#ffeded 60.5px,#fdfdff 67.5px,#d0d0ff 79.5px,#bfbfff 88.5px,#bfbfff 98.5px,#d0d0ff 110.5px,#fbfbff 124.5px,#fefeff 125.5px,#ffcece 140.5px,#ffc6c6 148.5px,#ffd0d0 158.5px,#fff3f3 171.5px,#fdfdff 175.5px,#a0a0ff 202.5px,#3030ff 240.5px,#0000ff 260.5px,#0000ff 271px)"></div><div style="background:linear-gradient(90deg,#0000ff 0px,#0000ff 5.5px,#3f3fff 18.5px,#9393ff 31.5px,#f3f3ff 45.5px,#fdfdff 47.5px,#ffe6e6 54.5px,#ffe4e4 59.5px,#fff2f2 65.5px,#fffefe 68.5px,#d4d4ff 79.5px,#c1c1ff 88.5px,#c0c0ff 98.5px,#d1d1ff 110.5px,#fafaff 124.5px,#fffdfd 126.5px,#ffd0d0 140.5px,#ffc7c7 148.5px,#ffd2d2 158.5px,#fff4f4 171.5px,#ffffff 174.5px,#9c9cff 203.5px,#2d2dff 241.5px,#0000ff 260.5px,#0000ff 271px)"></div><div style="background:linear-gradient(90deg,#0000ff 0px,#0000ff 5.5px,#3535ff 16.5px,#8181ff 28.5px,#f4f4ff 44.5px,#fffefe 46.5px,#ffe3e3 52.5px,#ffdbdb 57.5px,#ffe4e4 63.5px,#fdfdff 70.5px,#d8d8ff 79.5px,#c3c3ff 88.5px,#c1c1ff 98.5px,#d1d1ff 110.5px,#fffefe 126.5px,#ffd1d1 140.5px,#ffc9c9 148.5px,#ffd4d4 158.5px,#fff6f6 171.5px,#fefeff 174.5px,#9b9bff 203.5px,#2d2dff 241.5px,#0000ff 260.5px,#0000ff 271px)"></div><div style="background:linear-gradient(90deg,#0000ff 0px,#0202ff 6.5px,#3b3bff 17.5px,#8c8cff 29.5px,#fcfcff 44.5px,#fffcfc 45.5px,#ffdede 51.5px,#ffd3d3 56.5px,#ffd7d7 61.5px,#fff1f1 68.5px,#fefeff 71.5px,#dcdcff 79.5px,#c6c6ff 88.5px,#c1c1ff 97.5px,#d0d0ff 109.5px,#f6f6ff 123.5px,#fffefe 126.5px,#ffd2d2 140.5px,#ffcbcb 148.5px,#ffd8d8 159.5px,#ffffff 173.5px,#9797ff 204.5px,#2d2dff 241.5px,#0000ff 260.5px,#0000ff 271px)"></div><div style="background:linear-gradient(90deg,#0000ff 0px,#0202ff 6.5px,#3b3bff 17.5px,#8787ff 28.5px,#fdfdff 43.5px,#fff4f4 45.5px,#ffd5d5 51.5px,#ffcaca 56.5px,#ffcece 61.5px,#ffe9e9 68.5px,#ffffff 72.5px,#dcdcff 80.5px,#c7c7ff 89.5px,#c3c3ff 98.5px,#d2d2ff 110.5px,#fbfbff 125.5px,#ffffff 126.5px,#ffd4d4 140.5px,#ffcdcd 148.5px,#ffdada 159.5px,#fefeff 173.5px,#9696ff 204.5px,#2a2aff 242.5px,#0000ff 260.5px,#0000ff 271px)"></div><div style="background:linear-gradient(90deg,#0000ff 0px,#0101ff 6.5px,#3535ff 16.5px,#8282ff 27.5px,#fdfdff 42.5px,#fff3f3 44.5px,#ffd1d1 50.5px,#ffc2c2 55.5px,#ffc3c3 60.5px,#ffd8d8 66.5px,#fffefe 73.5px,#dadaff 82.5px,#c6c6ff 91.5px,#c6c6ff 101.5px,#d9d9ff 113.5px,#fefeff 126.5px,#ffd6d6 140.5px,#ffcfcf 148.5px,#ffdcdc 159.5px,#ffffff 172.5px,#9595ff 204.5px,#2929ff 242.5px,#0000ff 260.5px,#0000ff 271px)"></div><div style="background:linear-gradient(90deg,#0000ff 0px,#0000ff 6.5px,#3636ff 16.5px,#8585ff 27.5px,#fcfcff 41.5px,#fffafa 42.5px,#ffcdcd 49.5px,#ffbbbb 54.5px,#ffb9b9 59.5px,#ffcccc 65.5px,#fffefe 74.5px,#d8d8ff 84.5px,#c7c7ff 92.5px,#c8c8ff 102.5px,#dbdbff 114.5px,#fffefe 127.5px,#ffd8d8 140.5px,#ffd2d2 148.5px,#ffdfdf 159.5px,#fffefe 171.5px,#8787ff 208.5px,#2121ff 245.5px,#0000ff 259.5px,#0000ff 271px)"></div><div style="background:linear-gradient(90deg,#0000ff 0px,#0000ff 6.5px,#3030ff 15.5px,#7878ff 25.5px,#fbfbff 40.5px,#fffafa 41.5px,#ffc9c9 48.5px,#ffb4b4 53.5px,#ffaeae 58.5px,#ffbaba 63.5px,#ffe5e5 71.5px,#fffdfd 75.5px,#f7f7ff 77.5px,#d3d3ff 87.5px,#c7c7ff 95.5px,#cdcdff 106.5px,#e8e8ff 119.5px,#ffffff 127.5px,#ffdada 140.5px,#ffd4d4 148.5px,#ffe1e1 159.5px,#fefeff 171.5px,#8c8cff 206.5px,#2323ff 244.5px,#0000ff 259.5px,#0000ff 271px)"></div><div style="background:linear-gradient(90deg,#0000ff 0px,#0000ff 6.5px,#2a2aff 14.5px,#7272ff 24.5px,#f0f0ff 38.5px,#f9f9ff 39.5px,#fffcfc 40.5px,#ffc6c6 47.5px,#ffaaaa 53.5px,#ffa5a5 58.5px,#ffb2b2 63.5px,#ffdddd 71.5px,#fffbfb 76.5px,#fefeff 77.5px,#d9d9ff 86.5px,#c9c9ff 94.5px,#ccccff 105.5px,#e2e2ff 117.5px,#fefeff 127.5px,#ffdbdb 141.5px,#ffd7d7 149.5px,#ffe8e8 161.5px,#fefeff 170.5px,#8888ff 207.5px,#2020ff 245.5px,#0000ff 259.5px,#0000ff 271px)"></div><div style="background:linear-gradient(90deg,#0000ff 0px,#0000ff 6.5px,#2424ff 13.5px,#6363ff 22.5px,#c6c6ff 33.5px,#fffefe 39.5px,#ffc4c4 46.5px,#ffa4a4 52.5px,#ff9b9b 57.5px,#ffa5a5 62.5px,#ffc8c8 69.5px,#ffffff 78.5px,#d9d9ff 87.5px,#cacaff 95.5px,#ceceff 106.5px,#e7e7ff 119.5px,#fffefe 128.5px,#ffdfdf 140.5px,#ffdada 148.5px,#ffe7e7 159.5px,#ffffff 169.5px,#8484ff 208.5px,#1d1dff 246.5px,#0000ff 259.5px,#0000ff 271px)"></div><div style="background:linear-gradient(90deg,#0000ff 0px,#0000ff 6.5px,#2424ff 13.5px,#6565ff 22.5px,#c0c0ff 32.5px,#fdfdff 38.5px,#ffbbbb 46.5px,#ff9b9b 52.5px,#ff9292 57.5px,#ff9b9b 62.5px,#ffbfbf 69.5px,#fffdfd 79.5px,#d6d6ff 89.5px,#cbcbff 97.5px,#d1d1ff 108.5px,#f1f1ff 123.5px,#ffffff 128.5px,#ffe1e1 140.5px,#ffdddd 149.5px,#ffeded 161.5px,#ffffff 168.5px,#7d7dff 210.5px,#1717ff 248.5px,#0000ff 259.5px,#0000ff 271px)"></div><div style="background:linear-gradient(90deg,#0000ff 0px,#0000ff 6.5px,#2424ff 13.5px,#6767ff 22.5px,#c5c5ff 32.5px,#f9f9ff 37.5px,#fffafa 38.5px,#ffbaba 45.5px,#ff9a9a 50.5px,#ff8a8a 55.5px,#ff8c8c 60.5px,#ffa5a5 66.5px,#fffcfc 80.5px,#fcfcff 81.5px,#dadaff 89.5px,#cdcdff 96.5px,#d0d0ff 107.5px,#ececff 121.5px,#fefeff 128.5px,#ffe3e3 141.5px,#ffe1e1 150.5px,#fff2f2 162.5px,#ffffff 167.5px,#7676ff 212.5px,#1010ff 251.5px,#0000ff 259.5px,#0000ff 271px)"></div><div style="background:linear-gradient(90deg,#0000ff 0px,#0000ff 6.5px,#1f1fff 12.5px,#6060ff 21.5px,#b5b5ff 30.5px,#fffefe 37.5px,#ffb9b9 44.5px,#ff9696 49.5px,#ff8383 54.5px,#ff8181 59.5px,#ff9292 64.5px,#ffc1c1 72.5px,#fffcfc 81.5px,#fdfdff 82.5px,#ddddff 89.5px,#ceceff 96.5px,#cfcfff 106.5px,#e6e6ff 119.5px,#fffefe 129.5px,#ffe6e6 141.5px,#ffe5e5 151.5px,#fff8f8 163.5px,#ffffff 166.5px,#6f6fff 214.5px,#0a0aff 253.5px,#0000ff 258.5px,#0000ff 271px)"></div><div style="background:linear-gradient(90deg,#0000ff 0px,#0000ff 6.5px,#2525ff 13.5px,#6262ff 21.5px,#b9b9ff 30.5px,#fbfbff 36.5px,#fff7f7 37.5px,#ffb9b9 43.5px,#ff9393 48.5px,#ff7c7c 53.5px,#ff7777 58.5px,#ff8484 63.5px,#ffaaaa 70.5px,#fffbfb 82.5px,#fdfdff 83.5px,#ddddff 90.5px,#cfcfff 97.5px,#d0d0ff 107.5px,#ebebff 121.5px,#ffffff 129.5px,#ffe8e8 141.5px,#ffe8e8 151.5px,#fffbfb 163.5px,#ffffff 165.5px,#6868ff 216.5px,#0303ff 256.5px,#0000ff 271px)"></div><div style="background:linear-gradient(90deg,#0000ff 0px,#0000ff 6.5px,#2626ff 13.5px,#6363ff 21.5px,#b2b2ff 29.5px,#f6f6ff 35.5px,#fffcfc 36.5px,#ffb0b0 43.5px,#ff8989 48.5px,#ff7373 53.5px,#ff6f6f 58.5px,#ff7b7b 63.5px,#ffa1a1 70.5px,#fffbfb 83.5px,#fdfdff 84.5px,#e0e0ff 90.5px,#d1d1ff 97.5px,#d1d1ff 107.5px,#eaeaff 121.5px,#fffefe 130.5px,#ffeaea 142.5px,#ffeded 153.5px,#fefeff 164.5px,#5f5fff 219.5px,#0000ff 257.5px,#0000ff 271px)"></div><div style="background:linear-gradient(90deg,#0000ff 0px,#0000ff 6.5px,#2727ff 13.5px,#6565ff 21.5px,#b5b5ff 29.5px,#fcfcff 35.5px,#fff5f5 36.5px,#ffb0b0 42.5px,#ff8686 47.5px,#ff6d6d 52.5px,#ff6666 57.5px,#ff6f6f 62.5px,#ff8b8b 68.5px,#fffcfc 84.5px,#fcfcff 85.5px,#dfdfff 91.5px,#d1d1ff 98.5px,#d1d1ff 107.5px,#eaeaff 121.5px,#fefeff 130.5px,#ffeded 142.5px,#fff1f1 153.5px,#fdfdff 163.5px,#c1c1ff 184.5px,#4141ff 230.5px,#0000ff 257.5px,#0000ff 271px)"></div><div style="background:linear-gradient(90deg,#0000ff 0px,#0000ff 6.5px,#2f2fff 14.5px,#7070ff 22.5px,#c5c5ff 30.5px,#f6f6ff 34.5px,#fffbfb 35.5px,#ffa7a7 42.5px,#ff7c7c 47.5px,#ff6464 52.5px,#ff5d5d 57.5px,#ff6666 62.5px,#ff8181 68.5px,#ffc9c9 78.5px,#fffdfd 85.5px,#f5f5ff 87.5px,#dcdcff 93.5px,#d1d1ff 101.5px,#d6d6ff 111.5px,#ffffff 131.5px,#fff0f0 143.5px,#fff8f8 156.5px,#fefeff 161.5px,#d4d4ff 177.5px,#5f5fff 218.5px,#0101ff 256.5px,#0000ff 271px)"></div><div style="background:linear-gradient(90deg,#0000ff 0px,#0101ff 6.5px,#3030ff 14.5px,#6868ff 21.5px,#b1b1ff 28.5px,#fcfcff 34.5px,#fff4f4 35.5px,#ff9d9d 42.5px,#ff7272 47.5px,#ff5b5b 52.5px,#ff5555 57.5px,#ff6060 63.5px,#ff7d7d 69.5px,#ffc9c9 79.5px,#fffefe 86.5px,#e2e2ff 92.5px,#d2d2ff 100.5px,#d4d4ff 109.5px,#ffffff 132.5px,#fff3f3 143.5px,#fffbfb 156.5px,#fdfdff 160.5px,#d7d7ff 175.5px,#6161ff 217.5px,#0000ff 256.5px,#0000ff 271px)"></div><div style="background:linear-gradient(90deg,#0000ff 0px,#0202ff 6.5px,#3131ff 14.5px,#6a6aff 21.5px,#b5b5ff 28.5px,#f5f5ff 33.5px,#fffbfb 34.5px,#ff9f9f 41.5px,#ff7676 45.5px,#ff5c5c 49.5px,#ff4d4d 54.5px,#ff4f4f 60.5px,#ff6262 66.5px,#ff8787 72.5px,#fff8f8 86.5px,#ffffff 87.5px,#e5e5ff 92.5px,#d4d4ff 100.5px,#d4d4ff 109.5px,#ffffff 133.5px,#fff6f6 144.5px,#fdfdff 158.5px,#ddddff 172.5px,#5f5fff 217.5px,#0000ff 256.5px,#0000ff 271px)"></div><div style="background:linear-gradient(90deg,#0000ff 0px,#0303ff 6.5px,#3232ff 14.5px,#6c6cff 21.5px,#acacff 27.5px,#fbfbff 33.5px,#fff5f5 34.5px,#ff9595 41.5px,#ff6c6c 45.5px,#ff5252 49.5px,#ff4444 54.5px,#ff4646 60.5px,#ff5858 66.5px,#ff7d7d 72.5px,#fffafa 87.5px,#fdfdff 88.5px,#e5e5ff 93.5px,#d4d4ff 101.5px,#d6d6ff 110.5px,#fffefe 135.5px,#fffafa 146.5px,#fdfdff 155.5px,#e5e5ff 168.5px,#5454ff 221.5px,#0000ff 256.5px,#0000ff 271px)"></div><div style="background:linear-gradient(90deg,#0000ff 0px,#0000ff 5.5px,#2c2cff 13.5px,#6464ff 20.5px,#a3a3ff 26.5px,#f3f3ff 32.5px,#fffdfd 33.5px,#ff9797 40.5px,#ff6a6a 44.5px,#ff4c4c 48.5px,#ff3b3b 53.5px,#ff3b3b 59.5px,#ff4949 65.5px,#ff6464 70.5px,#ff9c9c 77.5px,#fff5f5 87.5px,#fffcfc 88.5px,#fcfcff 89.5px,#e2e2ff 95.5px,#d4d4ff 103.5px,#dadaff 113.5px,#fefeff 136.5px,#fcfcff 152.5px,#ebebff 164.5px,#3434ff 233.5px,#0000ff 256.5px,#0000ff 271px)"></div><div style="background:linear-gradient(90deg,#0000ff 0px,#0000ff 5.5px,#3535ff 14.5px,#6f6fff 21.5px,#b2b2ff 27.5px,#f8f8ff 32.5px,#fff7f7 33.5px,#ff8d8d 40.5px,#ff5e5e 44.5px,#ff4040 48.5px,#ff3232 52.5px,#ff3030 58.5px,#ff3f3f 65.5px,#ff5959 70.5px,#ff9393 77.5px,#ffefef 87.5px,#fffdfd 89.5px,#e2e2ff 96.5px,#d6d6ff 103.5px,#d9d9ff 112.5px,#fcfcff 136.5px,#fcfcff 148.5px,#ececff 162.5px,#b8b8ff 182.5px,#1b1bff 243.5px,#0000ff 256.5px,#0000ff 271px)"></div><div style="background:linear-gradient(90deg,#0000ff 0px,#0101ff 5.5px,#3636ff 14.5px,#7171ff 21.5px,#b5b5ff 27.5px,#fefeff 32.5px,#ffc0c0 36.5px,#ff7575 41.5px,#ff4949 45.5px,#ff3030 49.5px,#ff2525 54.5px,#ff2c2c 62.5px,#ff3c3c 67.5px,#ff5c5c 72.5px,#ffb1b1 81.5px,#fff0f0 88.5px,#fffefe 90.5px,#e2e2ff 97.5px,#d6d6ff 104.5px,#dbdbff 114.5px,#fafaff 136.5px,#f8f8ff 148.5px,#ebebff 161.5px,#c1c1ff 178.5px,#1c1cff 242.5px,#0000ff 255.5px,#0000ff 271px)"></div><div style="background:linear-gradient(90deg,#0000ff 0px,#0303ff 5.5px,#3737ff 14.5px,#6969ff 20.5px,#ababff 26.5px,#f3f3ff 31.5px,#fffbfb 32.5px,#ff7878 40.5px,#ff4747 44.5px,#ff2929 48.5px,#ff1a1a 53.5px,#ff1d1d 60.5px,#ff2c2c 66.5px,#ff4949 71.5px,#ff7f7f 77.5px,#ffe2e2 87.5px,#ffffff 91.5px,#e2e2ff 98.5px,#d7d7ff 105.5px,#ddddff 115.5px,#f7f7ff 135.5px,#f5f5ff 147.5px,#e7e7ff 161.5px,#bebeff 178.5px,#1515ff 245.5px,#0000ff 255.5px,#0000ff 271px)"></div><div style="background:linear-gradient(90deg,#0000ff 0px,#0000ff 4.5px,#3232ff 13.5px,#6b6bff 20.5px,#aeaeff 26.5px,#f7f7ff 31.5px,#fff6f6 32.5px,#ff7c7c 39.5px,#ff4545 43.5px,#ff2929 46.5px,#ff1515 50.5px,#ff0e0e 55.5px,#ff1717 63.5px,#ff2a2a 68.5px,#ff4e4e 73.5px,#ffdbdb 87.5px,#ffffff 92.5px,#e2e2ff 99.5px,#d7d7ff 106.5px,#dedeff 116.5px,#f5f5ff 135.5px,#f1f1ff 147.5px,#e4e4ff 161.5px,#b8b8ff 179.5px,#0d0dff 248.5px,#0000ff 255.5px,#0000ff 271px)"></div><div style="background:linear-gradient(90deg,#0000ff 0px,#0000ff 4.5px,#3434ff 13.5px,#6363ff 19.5px,#a4a4ff 25.5px,#dbdbff 29.5px,#fcfcff 31.5px,#fff0f0 32.5px,#ff7272 39.5px,#ff3939 43.5px,#ff1d1d 46.5px,#ff0909 50.5px,#ff0202 55.5px,#ff0c0c 63.5px,#ff1f1f 68.5px,#ff4343 73.5px,#ffd4d4 87.5px,#fffafa 92.5px,#fefeff 93.5px,#e4e4ff 99.5px,#d8d8ff 106.5px,#dedeff 116.5px,#f3f3ff 135.5px,#eeeeff 147.5px,#e1e1ff 161.5px,#b6b6ff 179.5px,#0808ff 250.5px,#0000ff 255.5px,#0000ff 271px)"></div><div style="background:linear-gradient(90deg,#0000ff 0px,#0202ff 4.5px,#3535ff 13.5px,#6565ff 19.5px,#a7a7ff 25.5px,#dfdfff 29.5px,#fffdfd 31.5px,#ff6767 39.5px,#ff3a3a 42.5px,#ff1919 45.5px,#ff0000 49.5px,#ff0101 63.5px,#ff1414 68.5px,#ff3838 73.5px,#ffcccc 87.5px,#fff4f4 92.5px,#fdfdff 94.5px,#e4e4ff 100.5px,#d9d9ff 107.5px,#e1e1ff 118.5px,#f1f1ff 135.5px,#eaeaff 147.5px,#dedeff 161.5px,#b3b3ff 179.5px,#0000ff 253.5px,#0000ff 271px)"></div><div style="background:linear-gradient(90deg,#0000ff 0px,#0000ff 3.5px,#3030ff 12.5px,#5e5eff 18.5px,#9191ff 23.5px,#d4d4ff 28.5px,#f4f4ff 30.5px,#fff7f7 31.5px,#ff5d5d 39.5px,#ff2e2e 42.5px,#ff0d0d 45.5px,#ff0000 47.5px,#ff0000 66.5px,#ff1515 70.5px,#ff4242 75.5px,#ffc5c5 87.5px,#fff6f6 93.5px,#fffcfc 94.5px,#fcfcff 95.5px,#e3e3ff 101.5px,#d9d9ff 108.5px,#e5e5ff 122.5px,#efefff 137.5px,#dbdbff 161.5px,#b0b0ff 179.5px,#0202ff 252.5px,#0000ff 271px)"></div><div style="background:linear-gradient(90deg,#0000ff 0px,#0000ff 3.5px,#3838ff 13.5px,#6969ff 19.5px,#a0a0ff 24.5px,#d8d8ff 28.5px,#f9f9ff 30.5px,#fff2f2 31.5px,#ff5353 39.5px,#ff2323 42.5px,#ff0101 45.5px,#ff0000 68.5px,#ff1212 71.5px,#ff4343 76.5px,#ffbebe 87.5px,#fff1f1 93.5px,#fffefe 95.5px,#e3e3ff 102.5px,#dadaff 109.5px,#ededff 135.5px,#d7d7ff 161.5px,#b0b0ff 178.5px,#0101ff 252.5px,#0000ff 271px)"></div><div style="background:linear-gradient(90deg,#0000ff 0px,#0101ff 3.5px,#3a3aff 13.5px,#6b6bff 19.5px,#a3a3ff 24.5px,#dcdcff 28.5px,#ffffff 30.5px,#ff4949 39.5px,#ff1818 42.5px,#ff0000 44.5px,#ff0000 70.5px,#ff2f2f 75.5px,#ffb7b7 87.5px,#ffecec 93.5px,#fefeff 96.5px,#e5e5ff 102.5px,#dadaff 109.5px,#ebebff 135.5px,#d3d3ff 162.5px,#5d5dff 212.5px,#0000ff 252.5px,#0000ff 271px)"></div><div style="background:linear-gradient(90deg,#0000ff 0px,#0303ff 3.5px,#3b3bff 13.5px,#6d6dff 19.5px,#a6a6ff 24.5px,#e1e1ff 28.5px,#f2f2ff 29.5px,#fffafa 30.5px,#ff3f3f 39.5px,#ff0e0e 42.5px,#ff0101 43.5px,#ff0000 71.5px,#ff2626 75.5px,#ffb1b1 87.5px,#ffe7e7 93.5px,#fffcfc 96.5px,#fcfcff 97.5px,#e4e4ff 103.5px,#dbdbff 110.5px,#e9e9ff 135.5px,#d8d8ff 154.5px,#c8c8ff 166.5px,#0000ff 252.5px,#0000ff 271px)"></div><div style="background:linear-gradient(90deg,#0000ff 0px,#0000ff 2.5px,#3636ff 12.5px,#6565ff 18.5px,#9c9cff 23.5px,#d5d5ff 27.5px,#f7f7ff 29.5px,#fff4f4 30.5px,#ff4949 38.5px,#ff1313 41.5px,#ff0404 42.5px,#ff0000 44.5px,#ff0000 72.5px,#ff2929 76.5px,#ffaaaa 87.5px,#ffe2e2 93.5px,#fffefe 97.5px,#e5e5ff 103.5px,#dbdbff 110.5px,#e7e7ff 135.5px,#d5d5ff 154.5px,#c5c5ff 166.5px,#0101ff 251.5px,#0000ff 271px)"></div><div style="background:linear-gradient(90deg,#0000ff 0px,#0000ff 2.5px,#3838ff 12.5px,#6767ff 18.5px,#9f9fff 23.5px,#dadaff 27.5px,#fdfdff 29.5px,#ffd8d8 31.5px,#ff4040 38.5px,#ff0a0a 41.5px,#ff0000 42.5px,#ff0000 73.5px,#ff7676 83.5px,#ffc2c2 90.5px,#fff4f4 96.5px,#fdfdff 98.5px,#e4e4ff 104.5px,#dbdbff 111.5px,#e5e5ff 135.5px,#d2d2ff 154.5px,#c3c3ff 166.5px,#0000ff 251.5px,#0000ff 271px)"></div><div style="background:linear-gradient(90deg,#0000ff 0px,#0101ff 2.5px,#4040ff 13.5px,#7373ff 19.5px,#b0b0ff 24.5px,#f1f1ff 28.5px,#fffafa 29.5px,#ff3838 38.5px,#ff0202 41.5px,#ff0000 73.5px,#ff0303 74.5px,#ffa8a8 88.5px,#ffe1e1 94.5px,#fffdfd 98.5px,#e3e3ff 105.5px,#dbdbff 112.5px,#e3e3ff 134.5px,#ceceff 156.5px,#b8b8ff 170.5px,#0000ff 251.5px,#0000ff 271px)"></div><div style="background:linear-gradient(90deg,#0000ff 0px,#0101ff 2.5px,#4242ff 13.5px,#7676ff 19.5px,#a6a6ff 23.5px,#e5e5ff 27.5px,#f7f7ff 28.5px,#fff4f4 29.5px,#ff2f2f 38.5px,#ff0a0a 40.5px,#ff0000 41.5px,#ff0000 74.5px,#ff1313 76.5px,#ffa2a2 88.5px,#ffe4e4 95.5px,#fefeff 99.5px,#e5e5ff 105.5px,#dcdcff 112.5px,#e2e2ff 134.5px,#bfbfff 165.5px,#0000ff 251.5px,#0000ff 271px)"></div><div style="background:linear-gradient(90deg,#0000ff 0px,#0202ff 2.5px,#4343ff 13.5px,#6e6eff 18.5px,#a9a9ff 23.5px,#eaeaff 27.5px,#fdfdff 28.5px,#ffeded 29.5px,#ff3b3b 37.5px,#ff0202 40.5px,#ff0101 75.5px,#ffa7a7 89.5px,#ffe8e8 96.5px,#fffdfd 99.5px,#f1f1ff 102.5px,#e0e0ff 108.5px,#dcdcff 117.5px,#e0e0ff 134.5px,#bdbdff 165.5px,#0000ff 250.5px,#0000ff 271px)"></div><div style="background:linear-gradient(90deg,#0000ff 0px,#0202ff 2.5px,#4545ff 13.5px,#7070ff 18.5px,#9f9fff 22.5px,#ddddff 26.5px,#efefff 27.5px,#fffbfb 28.5px,#ff8b8b 33.5px,#ff3232 37.5px,#ff0b0b 39.5px,#ff0000 40.5px,#ff0000 75.5px,#ff0606 76.5px,#ffa1a1 89.5px,#ffe4e4 96.5px,#fefeff 100.5px,#e5e5ff 106.5px,#dcdcff 113.5px,#dedeff 135.5px,#b9b9ff 166.5px,#0000ff 250.5px,#0000ff 271px)"></div><div style="background:linear-gradient(90deg,#0000ff 0px,#0202ff 2.5px,#4646ff 13.5px,#7272ff 18.5px,#a2a2ff 22.5px,#e1e1ff 26.5px,#f5f5ff 27.5px,#fff5f5 28.5px,#ff3e3e 36.5px,#ff0303 39.5px,#ff0000 45.5px,#ff0000 76.5px,#ff9b9b 89.5px,#ffdfdf 96.5px,#fffdfd 100.5px,#f6f6ff 102.5px,#e1e1ff 108.5px,#dcdcff 117.5px,#dcdcff 135.5px,#b6b6ff 166.5px,#0000ff 250.5px,#0000ff 271px)"></div><div style="background:linear-gradient(90deg,#0000ff 0px,#0101ff 2.5px,#4848ff 13.5px,#7575ff 18.5px,#a5a5ff 22.5px,#d3d3ff 25.5px,#f9f9ff 27.5px,#fff0f0 28.5px,#ff3535 36.5px,#ff0d0d 38.5px,#ff0000 39.5px,#ff0000 76.5px,#ff0606 77.5px,#ffa0a0 90.5px,#ffe3e3 97.5px,#fefeff 101.5px,#e8e8ff 106.5px,#dcdcff 113.5px,#dbdbff 135.5px,#b2b2ff 167.5px,#0000ff 249.5px,#0000ff 271px)"></div><div style="background:linear-gradient(90deg,#0000ff 0px,#0101ff 2.5px,#4949ff 13.5px,#7777ff 18.5px,#a7a7ff 22.5px,#d7d7ff 25.5px,#fefeff 27.5px,#ffd4d4 29.5px,#ff4141 35.5px,#ff0404 38.5px,#ff0000 40.5px,#ff0000 77.5px,#ff9b9b 90.5px,#ffdfdf 97.5px,#fffdfd 101.5px,#e6e6ff 107.5px,#dbdbff 115.5px,#dadaff 135.5px,#b0b0ff 167.5px,#0000ff 249.5px,#0000ff 271px)"></div><div style="background:linear-gradient(90deg,#0000ff 0px,#0000ff 2.5px,#4b4bff 13.5px,#7979ff 18.5px,#aaaaff 22.5px,#dbdbff 25.5px,#eeeeff 26.5px,#fffbfb 27.5px,#ff9c9c 31.5px,#ff3838 35.5px,#ff0e0e 37.5px,#ff0000 38.5px,#ff0000 77.5px,#ff0606 78.5px,#ffa0a0 91.5px,#ffe4e4 98.5px,#fffafa 101.5px,#fefeff 102.5px,#e8e8ff 107.5px,#dcdcff 114.5px,#d8d8ff 136.5px,#afafff 167.5px,#0000ff 248.5px,#0000ff 271px)"></div><div style="background:linear-gradient(90deg,#0000ff 0px,#0000ff 2.5px,#4d4dff 13.5px,#8787ff 19.5px,#bdbdff 23.5px,#f2f2ff 26.5px,#fff6f6 27.5px,#ff9595 31.5px,#ff2f2f 35.5px,#ff0505 37.5px,#ff0000 38.5px,#ff0000 78.5px,#ffa5a5 92.5px,#ffe8e8 99.5px,#fffdfd 102.5px,#e6e6ff 108.5px,#dbdbff 116.5px,#d7d7ff 136.5px,#ababff 168.5px,#0000ff 248.5px,#0000ff 271px)"></div><div style="background:linear-gradient(90deg,#0000ff 0px,#0000ff 2.5px,#4f4fff 13.5px,#8b8bff 19.5px,#c1c1ff 23.5px,#f7f7ff 26.5px,#fff1f1 27.5px,#ffa8a8 30.5px,#ff3e3e 34.5px,#ff1111 36.5px,#ff0000 37.5px,#ff0000 78.5px,#ff0606 79.5px,#ffa0a0 92.5px,#ffe4e4 99.5px,#fffafa 102.5px,#fdfdff 103.5px,#e8e8ff 108.5px,#dcdcff 116.5px,#d6d6ff 136.5px,#a9a9ff 168.5px,#0000ff 248.5px,#0000ff 271px)"></div><div style="background:linear-gradient(90deg,#0000ff 0px,#0000ff 2.5px,#4949ff 12.5px,#8383ff 18.5px,#b6b6ff 22.5px,#e8e8ff 25.5px,#fcfcff 26.5px,#ffecec 27.5px,#ffa1a1 30.5px,#ff3636 34.5px,#ff0909 36.5px,#ff0000 37.5px,#ff0000 79.5px,#ffa5a5 93.5px,#ffe8e8 100.5px,#fffefe 103.5px,#e7e7ff 109.5px,#dbdbff 117.5px,#d4d4ff 137.5px,#a6a6ff 169.5px,#0000ff 247.5px,#0000ff 271px)"></div><div style="background:linear-gradient(90deg,#0000ff 0px,#0000ff 2.5px,#4b4bff 12.5px,#8686ff 18.5px,#babaff 22.5px,#fffcfc 26.5px,#ffb5b5 29.5px,#ff2e2e 34.5px,#ff0101 36.5px,#ff0000 79.5px,#ff0707 80.5px,#ffaaaa 94.5px,#ffecec 101.5px,#fffbfb 103.5px,#fdfdff 104.5px,#e8e8ff 109.5px,#dcdcff 117.5px,#d3d3ff 137.5px,#a4a4ff 169.5px,#0000ff 247.5px,#0000ff 271px)"></div><div style="background:linear-gradient(90deg,#0000ff 0px,#0000ff 2.5px,#4d4dff 12.5px,#8b8bff 18.5px,#c0c0ff 22.5px,#f3f3ff 25.5px,#fff6f6 26.5px,#ffaeae 29.5px,#ff2727 34.5px,#ff0f0f 35.5px,#ff0000 36.5px,#ff0000 80.5px,#ffa5a5 94.5px,#ffe8e8 101.5px,#fffefe 104.5px,#e7e7ff 110.5px,#dbdbff 118.5px,#d1d1ff 138.5px,#a1a1ff 170.5px,#0000ff 247.5px,#0000ff 271px)"></div><div style="background:linear-gradient(90deg,#0000ff 0px,#0000ff 2.5px,#5050ff 12.5px,#8f8fff 18.5px,#c5c5ff 22.5px,#fafaff 25.5px,#ffefef 26.5px,#ffa7a7 29.5px,#ff2020 34.5px,#ff0909 35.5px,#ff0000 36.5px,#ff0000 80.5px,#ff0606 81.5px,#ffaaaa 95.5px,#ffe4e4 101.5px,#fffafa 104.5px,#fefeff 105.5px,#e6e6ff 111.5px,#dbdbff 119.5px,#d1d1ff 138.5px,#9d9dff 171.5px,#0000ff 246.5px,#0000ff 271px)"></div><div style="background:linear-gradient(90deg,#0000ff 0px,#0000ff 2.5px,#5353ff 12.5px,#9494ff 18.5px,#ccccff 22.5px,#fffcfc 25.5px,#ffb9b9 28.5px,#ff1a1a 34.5px,#ff0303 35.5px,#ff0000 47.5px,#ff0000 81.5px,#ffafaf 96.5px,#ffe8e8 102.5px,#fffdfd 105.5px,#e5e5ff 112.5px,#dadaff 121.5px,#cfcfff 139.5px,#9a9aff 172.5px,#0000ff 246.5px,#0000ff 271px)"></div><div style="background:linear-gradient(90deg,#0000ff 0px,#0000ff 2.5px,#5656ff 12.5px,#9999ff 18.5px,#d3d3ff 22.5px,#f6f6ff 24.5px,#fff4f4 25.5px,#ffb0b0 28.5px,#ff1414 34.5px,#ff0000 35.5px,#ff0000 81.5px,#ff0505 82.5px,#ffaaaa 96.5px,#ffe3e3 102.5px,#ffffff 106.5px,#e7e7ff 112.5px,#dbdbff 120.5px,#ceceff 139.5px,#9797ff 173.5px,#0000ff 245.5px,#0000ff 271px)"></div><div style="background:linear-gradient(90deg,#0000ff 0px,#0000ff 2.5px,#5a5aff 12.5px,#9f9fff 18.5px,#dbdbff 22.5px,#ffffff 24.5px,#ffbfbf 27.5px,#ff0f0f 34.5px,#ff0000 35.5px,#ff0000 82.5px,#ffafaf 97.5px,#ffe7e7 103.5px,#fffbfb 106.5px,#fdfdff 107.5px,#e6e6ff 113.5px,#d9d9ff 122.5px,#ceceff 139.5px,#9696ff 173.5px,#0000ff 245.5px,#0000ff 271px)"></div><div style="background:linear-gradient(90deg,#0000ff 0px,#0000ff 2.5px,#5d5dff 12.5px,#9797ff 17.5px,#d2d2ff 21.5px,#f4f4ff 23.5px,#fff7f7 24.5px,#ff9f9f 28.5px,#ff0a0a 34.5px,#ff0000 35.5px,#ff0000 82.5px,#ff0303 83.5px,#ffa9a9 97.5px,#ffe2e2 103.5px,#fffefe 107.5px,#e5e5ff 114.5px,#d9d9ff 123.5px,#cdcdff 139.5px,#9393ff 174.5px,#0000ff 245.5px,#0000ff 271px)"></div><div style="background:linear-gradient(90deg,#0000ff 0px,#0000ff 2.5px,#6c6cff 13.5px,#ababff 18.5px,#eaeaff 22.5px,#fdfdff 23.5px,#ffeeee 24.5px,#ff9696 28.5px,#ff0505 34.5px,#ff0000 36.5px,#ff0000 83.5px,#ff1414 85.5px,#ffa3a3 97.5px,#ffdddd 103.5px,#fffafa 107.5px,#fefeff 108.5px,#e6e6ff 114.5px,#d9d9ff 123.5px,#cdcdff 139.5px,#9090ff 175.5px,#0000ff 244.5px,#0000ff 271px)"></div><div style="background:linear-gradient(90deg,#0000ff 0px,#0000ff 2.5px,#7070ff 13.5px,#b1b1ff 18.5px,#f2f2ff 22.5px,#fff9f9 23.5px,#ffa4a4 27.5px,#ff0000 34.5px,#ff0101 84.5px,#ff9d9d 97.5px,#ffd9d9 103.5px,#fffdfd 108.5px,#f2f2ff 111.5px,#dedeff 118.5px,#cacaff 141.5px,#8787ff 179.5px,#0000ff 244.5px,#0000ff 271px)"></div><div style="background:linear-gradient(90deg,#0000ff 0px,#0101ff 2.5px,#7575ff 13.5px,#b7b7ff 18.5px,#fafaff 22.5px,#fff1f1 23.5px,#ff8484 28.5px,#ff0f0f 33.5px,#ff0000 34.5px,#ff0000 84.5px,#ff0606 85.5px,#ffa2a2 98.5px,#ffdcdc 104.5px,#ffffff 109.5px,#e6e6ff 115.5px,#d8d8ff 124.5px,#cbcbff 140.5px,#8686ff 179.5px,#0000ff 243.5px,#0000ff 271px)"></div><div style="background:linear-gradient(90deg,#0000ff 0px,#0202ff 2.5px,#7979ff 13.5px,#bdbdff 18.5px,#fffdfd 22.5px,#ff9393 27.5px,#ff0909 33.5px,#ff0000 34.5px,#ff0000 85.5px,#ff9c9c 98.5px,#ffd8d8 104.5px,#fffdfd 109.5px,#f7f7ff 111.5px,#e0e0ff 118.5px,#c7c7ff 142.5px,#7b7bff 184.5px,#0000ff 243.5px,#0000ff 271px)"></div><div style="background:linear-gradient(90deg,#0000ff 0px,#0303ff 2.5px,#7d7dff 13.5px,#c2c2ff 18.5px,#f6f6ff 21.5px,#fff5f5 22.5px,#ff8a8a 27.5px,#ff0202 33.5px,#ff0000 85.5px,#ff0505 86.5px,#ffa2a2 99.5px,#ffdcdc 105.5px,#fefeff 110.5px,#e6e6ff 116.5px,#d8d8ff 125.5px,#c9c9ff 141.5px,#7b7bff 184.5px,#0000ff 243.5px,#0000ff 271px)"></div><div style="background:linear-gradient(90deg,#0000ff 0px,#0505ff 2.5px,#8282ff 13.5px,#c8c8ff 18.5px,#fcfcff 21.5px,#ffeeee 22.5px,#ff6b6b 28.5px,#ff1111 32.5px,#ff0000 33.5px,#ff0000 86.5px,#ffa7a7 100.5px,#ffe0e0 106.5px,#fffdfd 110.5px,#f7f7ff 112.5px,#e0e0ff 119.5px,#c5c5ff 143.5px,#6868ff 193.5px,#0000ff 242.5px,#0000ff 271px)"></div><div style="background:linear-gradient(90deg,#0000ff 0px,#0000ff 1.5px,#0606ff 2.5px,#9393ff 14.5px,#dedeff 19.5px,#f0f0ff 20.5px,#fffbfb 21.5px,#ff9191 26.5px,#ff0909 32.5px,#ff0000 33.5px,#ff0000 86.5px,#ff0404 87.5px,#ff9696 99.5px,#ffdcdc 106.5px,#fefeff 111.5px,#e5e5ff 117.5px,#d7d7ff 126.5px,#c7c7ff 142.5px,#6969ff 192.5px,#0000ff 242.5px,#0000ff 271px)"></div><div style="background:linear-gradient(90deg,#0000ff 0px,#0000ff 1.5px,#1313ff 3.5px,#9898ff 14.5px,#d3d3ff 18.5px,#f6f6ff 20.5px,#fff5f5 21.5px,#ff7272 27.5px,#ff0202 32.5px,#ff0000 87.5px,#ff4848 93.5px,#ffb1b1 102.5px,#ffe8e8 108.5px,#fffdfd 111.5px,#f2f2ff 114.5px,#ddddff 121.5px,#c3c3ff 144.5px,#5858ff 200.5px,#0101ff 241.5px,#0000ff 271px)"></div><div style="background:linear-gradient(90deg,#0000ff 0px,#0000ff 1.5px,#2d2dff 5.5px,#aaaaff 15.5px,#e9e9ff 19.5px,#fcfcff 20.5px,#ffeeee 21.5px,#ff5252 28.5px,#ff1010 31.5px,#ff0000 32.5px,#ff0000 87.5px,#ff0303 88.5px,#ff9696 100.5px,#ffdcdc 107.5px,#fffafa 111.5px,#fefeff 112.5px,#e5e5ff 118.5px,#d6d6ff 127.5px,#c1c1ff 145.5px,#5151ff 203.5px,#0000ff 241.5px,#0000ff 271px)"></div><div style="background:linear-gradient(90deg,#0000ff 0px,#0000ff 1.5px,#9494ff 13.5px,#ddddff 18.5px,#fffcfc 20.5px,#ff9090 25.5px,#ff0808 31.5px,#ff0000 32.5px,#ff0000 88.5px,#ff2222 91.5px,#ff9c9c 101.5px,#ffe0e0 108.5px,#fffdfd 112.5px,#e3e3ff 119.5px,#d5d5ff 129.5px,#bebeff 147.5px,#4c4cff 205.5px,#0000ff 241.5px,#0000ff 271px)"></div><div style="background:linear-gradient(90deg,#0000ff 0px,#0000ff 1.5px,#b4b4ff 15.5px,#f4f4ff 19.5px,#fff7f7 20.5px,#ff8888 25.5px,#ff0000 31.5px,#ff0000 88.5px,#ff0303 89.5px,#ff9797 101.5px,#ffdddd 108.5px,#fffafa 112.5px,#fefeff 113.5px,#e4e4ff 119.5px,#d5d5ff 129.5px,#bcbcff 148.5px,#4b4bff 205.5px,#0101ff 240.5px,#0000ff 271px)"></div><div style="background:linear-gradient(90deg,#0000ff 0px,#0000ff 1.5px,#b9b9ff 15.5px,#fafaff 19.5px,#fff1f1 20.5px,#ff8080 25.5px,#ff0e0e 30.5px,#ff0000 31.5px,#ff0000 89.5px,#ff2222 92.5px,#ff9c9c 102.5px,#ffd9d9 108.5px,#fffefe 113.5px,#e3e3ff 120.5px,#d3d3ff 131.5px,#b6b6ff 151.5px,#4646ff 207.5px,#0000ff 240.5px,#0000ff 271px)"></div><div style="background:linear-gradient(90deg,#0000ff 0px,#0101ff 1.5px,#cdcdff 16.5px,#fffefe 19.5px,#ffa8a8 23.5px,#ff0606 30.5px,#ff0000 31.5px,#ff0000 89.5px,#ff0303 90.5px,#ff9797 102.5px,#ffdede 109.5px,#fffbfb 113.5px,#fdfdff 114.5px,#e4e4ff 120.5px,#d3d3ff 131.5px,#b6b6ff 151.5px,#4646ff 207.5px,#0101ff 239.5px,#0000ff 271px)"></div><div style="background:linear-gradient(90deg,#0000ff 0px,#0101ff 1.5px,#d2d2ff 16.5px,#f3f3ff 18.5px,#fff8f8 19.5px,#ffa1a1 23.5px,#ff1414 29.5px,#ff0000 30.5px,#ff0000 90.5px,#ff2323 93.5px,#ff9e9e 103.5px,#ffdada 109.5px,#ffffff 114.5px,#e5e5ff 120.5px,#d4d4ff 130.5px,#b8b8ff 150.5px,#4848ff 206.5px,#0101ff 239.5px,#0000ff 271px)"></div><div style="background:linear-gradient(90deg,#0000ff 0px,#0202ff 1.5px,#d7d7ff 16.5px,#f9f9ff 18.5px,#fff2f2 19.5px,#ff9a9a 23.5px,#ff0c0c 29.5px,#ff0000 30.5px,#ff0000 90.5px,#ff0303 91.5px,#ff9999 103.5px,#ffdfdf 110.5px,#fffdfd 114.5px,#e3e3ff 121.5px,#d1d1ff 133.5px,#b1b1ff 154.5px,#4545ff 207.5px,#0000ff 239.5px,#0000ff 271px)"></div><div style="background:linear-gradient(90deg,#0000ff 0px,#0303ff 1.5px,#ddddff 16.5px,#fffefe 18.5px,#ffc1c1 21.5px,#ff0505 29.5px,#ff0000 30.5px,#ff0000 91.5px,#ff9f9f 104.5px,#ffdcdc 110.5px,#fffbfb 114.5px,#fdfdff 115.5px,#e4e4ff 121.5px,#d1d1ff 133.5px,#b0b0ff 154.5px,#4545ff 207.5px,#0202ff 238.5px,#0000ff 271px)"></div><div style="background:linear-gradient(90deg,#0000ff 0px,#0303ff 1.5px,#d2d2ff 15.5px,#f4f4ff 17.5px,#fff8f8 18.5px,#ffa2a2 22.5px,#ff1414 28.5px,#ff0000 29.5px,#ff0000 91.5px,#ff0404 92.5px,#ff9b9b 104.5px,#ffe1e1 111.5px,#ffffff 115.5px,#e5e5ff 121.5px,#d3d3ff 132.5px,#b2b2ff 153.5px,#4747ff 206.5px,#0505ff 236.5px,#0000ff 241.5px,#0000ff 271px)"></div><div style="background:linear-gradient(90deg,#0000ff 0px,#0303ff 1.5px,#d8d8ff 15.5px,#fbfbff 17.5px,#fff1f1 18.5px,#ff9a9a 22.5px,#ff0d0d 28.5px,#ff0000 29.5px,#ff0000 92.5px,#ffa1a1 105.5px,#ffdede 111.5px,#fffdfd 115.5px,#f6f6ff 117.5px,#dfdfff 124.5px,#b6b6ff 151.5px,#4646ff 206.5px,#0606ff 235.5px,#0000ff 241.5px,#0000ff 271px)"></div><div style="background:linear-gradient(90deg,#0000ff 0px,#0303ff 1.5px,#ccccff 14.5px,#fffdfd 17.5px,#ffa9a9 21.5px,#ff0606 28.5px,#ff0000 29.5px,#ff0000 92.5px,#ff0606 93.5px,#ff9d9d 105.5px,#ffe4e4 112.5px,#fffafa 115.5px,#fefeff 116.5px,#e5e5ff 122.5px,#d0d0ff 135.5px,#aaaaff 157.5px,#4646ff 206.5px,#0808ff 234.5px,#0000ff 240.5px,#0000ff 271px)"></div><div style="background:linear-gradient(90deg,#0000ff 0px,#0303ff 1.5px,#c0c0ff 13.5px,#f5f5ff 16.5px,#fff6f6 17.5px,#ffa1a1 21.5px,#ff0000 28.5px,#ff0101 93.5px,#ff9999 105.5px,#ffe1e1 112.5px,#fffefe 116.5px,#e4e4ff 123.5px,#b1b1ff 154.5px,#4646ff 206.5px,#0909ff 233.5px,#0000ff 239.5px,#0000ff 271px)"></div><div style="background:linear-gradient(90deg,#0000ff 0px,#0303ff 1.5px,#b3b3ff 12.5px,#fbfbff 16.5px,#fff0f0 17.5px,#ff8282 22.5px,#ff0f0f 27.5px,#ff0000 28.5px,#ff0000 93.5px,#ff1515 95.5px,#ffa0a0 106.5px,#ffdddd 112.5px,#fffcfc 116.5px,#fdfdff 117.5px,#e5e5ff 123.5px,#afafff 155.5px,#4848ff 205.5px,#0b0bff 232.5px,#0000ff 239.5px,#0000ff 271px)"></div><div style="background:linear-gradient(90deg,#0000ff 0px,#0303ff 1.5px,#b6b6ff 12.5px,#fffefe 16.5px,#ff9292 21.5px,#ff0808 27.5px,#ff0000 28.5px,#ff0000 93.5px,#ff0303 94.5px,#ff9c9c 106.5px,#ffdada 112.5px,#ffffff 117.5px,#e6e6ff 123.5px,#ccccff 139.5px,#9999ff 165.5px,#4a4aff 204.5px,#0a0aff 232.5px,#0000ff 239.5px,#0000ff 271px)"></div><div style="background:linear-gradient(90deg,#0000ff 0px,#0303ff 1.5px,#a7a7ff 11.5px,#f1f1ff 15.5px,#fff9f9 16.5px,#ff8b8b 21.5px,#ff0101 27.5px,#ff0000 94.5px,#ffa3a3 107.5px,#ffe0e0 113.5px,#fffdfd 117.5px,#f7f7ff 119.5px,#e0e0ff 126.5px,#b4b4ff 153.5px,#7575ff 184.5px,#3c3cff 210.5px,#0808ff 233.5px,#0000ff 239.5px,#0000ff 271px)"></div><div style="background:linear-gradient(90deg,#0000ff 0px,#0303ff 1.5px,#aaaaff 11.5px,#f5f5ff 15.5px,#fff4f4 16.5px,#ff6c6c 22.5px,#ff1010 26.5px,#ff0000 27.5px,#ff0000 94.5px,#ff0606 95.5px,#ff9393 106.5px,#ffd3d3 112.5px,#fffafa 117.5px,#fefeff 118.5px,#e6e6ff 124.5px,#b0b0ff 155.5px,#7878ff 182.5px,#4343ff 207.5px,#0c0cff 231.5px,#0000ff 239.5px,#0000ff 271px)"></div><div style="background:linear-gradient(90deg,#0000ff 0px,#0202ff 1.5px,#acacff 11.5px,#f9f9ff 15.5px,#fff0f0 16.5px,#ff0909 26.5px,#ff0000 27.5px,#ff0101 95.5px,#ff9b9b 107.5px,#ffd9d9 113.5px,#fffefe 118.5px,#e5e5ff 125.5px,#b0b0ff 155.5px,#7a7aff 181.5px,#4848ff 205.5px,#0d0dff 230.5px,#0000ff 238.5px,#0000ff 271px)"></div><div style="background:linear-gradient(90deg,#0000ff 0px,#0202ff 1.5px,#9c9cff 10.5px,#fdfdff 15.5px,#ffecec 16.5px,#ff0303 26.5px,#ff0000 32.5px,#ff0000 95.5px,#ff2424 98.5px,#ff9797 107.5px,#ffd6d6 113.5px,#fffbfb 118.5px,#fdfdff 119.5px,#e6e6ff 125.5px,#b0b0ff 155.5px,#7c7cff 180.5px,#4d4dff 203.5px,#0d0dff 230.5px,#0000ff 238.5px,#0000ff 271px)"></div><div style="background:linear-gradient(90deg,#0000ff 0px,#0202ff 1.5px,#9e9eff 10.5px,#fffefe 15.5px,#ff7272 21.5px,#ff1313 25.5px,#ff0000 26.5px,#ff0000 95.5px,#ff0505 96.5px,#ff9494 107.5px,#ffd3d3 113.5px,#fff9f9 118.5px,#ffffff 119.5px,#e7e7ff 125.5px,#b1b1ff 155.5px,#7c7cff 180.5px,#4d4dff 203.5px,#0f0fff 229.5px,#0000ff 238.5px,#0000ff 271px)"></div><div style="background:linear-gradient(90deg,#0000ff 0px,#0202ff 1.5px,#a0a0ff 10.5px,#eeeeff 14.5px,#fffafa 15.5px,#ff6c6c 21.5px,#ff0d0d 25.5px,#ff0000 26.5px,#ff0101 96.5px,#ff9090 107.5px,#ffd0d0 113.5px,#fff7f7 118.5px,#fffdfd 119.5px,#e5e5ff 126.5px,#b3b3ff 154.5px,#7e7eff 179.5px,#5252ff 201.5px,#0f0fff 229.5px,#0000ff 238.5px,#0000ff 271px)"></div><div style="background:linear-gradient(90deg,#0000ff 0px,#0101ff 1.5px,#a1a1ff 10.5px,#f1f1ff 14.5px,#fff7f7 15.5px,#ff4f4f 22.5px,#ff0909 25.5px,#ff0000 26.5px,#ff0000 96.5px,#ff2525 99.5px,#ff9898 108.5px,#ffd6d6 114.5px,#fffcfc 119.5px,#fdfdff 120.5px,#e6e6ff 126.5px,#b4b4ff 154.5px,#7e7eff 179.5px,#5252ff 201.5px,#0f0fff 229.5px,#0000ff 238.5px,#0000ff 271px)"></div><div style="background:linear-gradient(90deg,#0000ff 0px,#0101ff 1.5px,#a3a3ff 10.5px,#f4f4ff 14.5px,#fff4f4 15.5px,#ff0404 25.5px,#ff0000 27.5px,#ff0000 96.5px,#ff0606 97.5px,#ff9595 108.5px,#ffd4d4 114.5px,#fffafa 119.5px,#fefeff 120.5px,#e7e7ff 126.5px,#b4b4ff 154.5px,#7e7eff 179.5px,#5454ff 200.5px,#0f0fff 229.5px,#0000ff 238.5px,#0000ff 271px)"></div><div style="background:linear-gradient(90deg,#0000ff 0px,#0101ff 1.5px,#a5a5ff 10.5px,#f6f6ff 14.5px,#fff2f2 15.5px,#ff0101 25.5px,#ff0000 96.5px,#ff0303 97.5px,#ff9292 108.5px,#ffd2d2 114.5px,#fff9f9 119.5px,#ffffff 120.5px,#e5e5ff 127.5px,#b7b7ff 153.5px,#8080ff 178.5px,#5757ff 199.5px,#0f0fff 229.5px,#0000ff 238.5px,#0000ff 271px)"></div><div style="background:linear-gradient(90deg,#0000ff 0px,#0101ff 1.5px,#a6a6ff 10.5px,#f9f9ff 14.5px,#ffefef 15.5px,#ff1414 24.5px,#ff0000 25.5px,#ff0000 97.5px,#ff8f8f 108.5px,#ffcfcf 114.5px,#fff7f7 119.5px,#fffdfd 120.5px,#e5e5ff 127.5px,#b5b5ff 154.5px,#8181ff 178.5px,#5757ff 199.5px,#0f0fff 229.5px,#0000ff 238.5px,#0000ff 271px)"></div><div style="background:linear-gradient(90deg,#0000ff 0px,#0000ff 1.5px,#9494ff 9.5px,#fbfbff 14.5px,#ffecec 15.5px,#ff1212 24.5px,#ff0000 25.5px,#ff0000 97.5px,#ff1717 99.5px,#ff9898 109.5px,#ffd6d6 115.5px,#fffcfc 120.5px,#fcfcff 121.5px,#e6e6ff 127.5px,#b6b6ff 154.5px,#8181ff 178.5px,#5757ff 199.5px,#0f0fff 229.5px,#0000ff 238.5px,#0000ff 271px)"></div><div style="background:linear-gradient(90deg,#0000ff 0px,#0000ff 1.5px,#9595ff 9.5px,#fdfdff 14.5px,#ffd2d2 16.5px,#ff1010 24.5px,#ff0000 25.5px,#ff0000 97.5px,#ff0606 98.5px,#ff8989 108.5px,#ffcbcb 114.5px,#fff4f4 119.5px,#fefeff 121.5px,#e6e6ff 127.5px,#b7b7ff 154.5px,#8282ff 178.5px,#5a5aff 198.5px,#0f0fff 229.5px,#0000ff 238.5px,#0000ff 271px)"></div><div style="background:linear-gradient(90deg,#0000ff 0px,#0000ff 1.5px,#9696ff 9.5px,#fffefe 14.5px,#ff0f0f 24.5px,#ff0000 25.5px,#ff0000 97.5px,#ff0404 98.5px,#ff8787 108.5px,#ffd2d2 115.5px,#fffafa 120.5px,#ffffff 121.5px,#e7e7ff 127.5px,#b7b7ff 154.5px,#8282ff 178.5px,#5a5aff 198.5px,#1010ff 229.5px,#0000ff 238.5px,#0000ff 271px)"></div><div style="background:linear-gradient(90deg,#0000ff 0px,#0000ff 1.5px,#9797ff 9.5px,#ebebff 13.5px,#fffdfd 14.5px,#ff0d0d 24.5px,#ff0000 25.5px,#ff0101 98.5px,#ff9090 109.5px,#ffd1d1 115.5px,#fff8f8 120.5px,#fffefe 121.5px,#e5e5ff 128.5px,#babaff 153.5px,#8282ff 178.5px,#5c5cff 197.5px,#1010ff 229.5px,#0000ff 238.5px,#0000ff 271px)"></div><div style="background:linear-gradient(90deg,#0000ff 0px,#0000ff 1.5px,#9898ff 9.5px,#ececff 13.5px,#fffbfb 14.5px,#ff0c0c 24.5px,#ff0000 25.5px,#ff0000 98.5px,#ff8e8e 109.5px,#ffcfcf 115.5px,#fff7f7 120.5px,#fffdfd 121.5px,#e5e5ff 128.5px,#b9b9ff 154.5px,#8383ff 178.5px,#5d5dff 197.5px,#1212ff 228.5px,#0000ff 238.5px,#0000ff 271px)"></div><div style="background:linear-gradient(90deg,#0000ff 0px,#0000ff 1.5px,#9898ff 9.5px,#ededff 13.5px,#fffafa 14.5px,#ff0b0b 24.5px,#ff0000 25.5px,#ff0000 98.5px,#ff1717 100.5px,#ff9898 110.5px,#ffd6d6 116.5px,#fffcfc 121.5px,#fcfcff 122.5px,#e5e5ff 128.5px,#b9b9ff 154.5px,#8383ff 178.5px,#5d5dff 197.5px,#1414ff 227.5px,#0000ff 238.5px,#0000ff 271px)"></div><div style="background:linear-gradient(90deg,#0000ff 0px,#0000ff 1.5px,#9999ff 9.5px,#eeeeff 13.5px,#fff9f9 14.5px,#ff0b0b 24.5px,#ff0000 25.5px,#ff0000 98.5px,#ff0707 99.5px,#ff8a8a 109.5px,#ffd5d5 116.5px,#fffbfb 121.5px,#fdfdff 122.5px,#e6e6ff 128.5px,#babaff 154.5px,#8383ff 178.5px,#5f5fff 196.5px,#1717ff 226.5px,#0000ff 238.5px,#0000ff 271px)"></div><div style="background:linear-gradient(90deg,#0000ff 0px,#0000ff 1.5px,#8585ff 8.5px,#efefff 13.5px,#fff9f9 14.5px,#ff0a0a 24.5px,#ff0000 25.5px,#ff0000 98.5px,#ff0505 99.5px,#ff8888 109.5px,#ffd3d3 116.5px,#fffafa 121.5px,#fefeff 122.5px,#e6e6ff 128.5px,#d1d1ff 141.5px,#b6b6ff 156.5px,#8484ff 178.5px,#5f5fff 196.5px,#1717ff 226.5px,#0000ff 238.5px,#0000ff 271px)"></div><div style="background:linear-gradient(90deg,#0000ff 0px,#0000ff 1.5px,#8585ff 8.5px,#efefff 13.5px,#fff9f9 14.5px,#ff0909 24.5px,#ff0000 25.5px,#ff0000 98.5px,#ff0303 99.5px,#ff8686 109.5px,#ffd2d2 116.5px,#fff9f9 121.5px,#ffffff 122.5px,#e6e6ff 128.5px,#d3d3ff 140.5px,#b8b8ff 155.5px,#8484ff 178.5px,#6161ff 195.5px,#1919ff 225.5px,#0000ff 238.5px,#0000ff 271px)"></div><div style="background:linear-gradient(90deg,#0000ff 0px,#0000ff 1.5px,#8585ff 8.5px,#efefff 13.5px,#fff9f9 14.5px,#ff0808 24.5px,#ff0000 25.5px,#ff0101 99.5px,#ff9191 110.5px,#ffd1d1 116.5px,#fff8f8 121.5px,#ffffff 122.5px,#e6e6ff 128.5px,#d4d4ff 139.5px,#bbbbff 154.5px,#8686ff 177.5px,#6161ff 195.5px,#1b1bff 224.5px,#0000ff 238.5px,#0000ff 271px)"></div><div style="background:linear-gradient(90deg,#0000ff 0px,#0000ff 1.5px,#8585ff 8.5px,#eeeeff 13.5px,#fff9f9 14.5px,#ff0808 24.5px,#ff0000 25.5px,#ff0000 99.5px,#ff8f8f 110.5px,#ffd0d0 116.5px,#fff8f8 121.5px,#fffefe 122.5px,#e3e3ff 129.5px,#bdbdff 153.5px,#8585ff 177.5px,#6161ff 195.5px,#1d1dff 223.5px,#0000ff 237.5px,#0000ff 271px)"></div><div style="background:linear-gradient(90deg,#0000ff 0px,#0000ff 1.5px,#9999ff 9.5px,#eeeeff 13.5px,#fffafa 14.5px,#ff0707 24.5px,#ff0000 25.5px,#ff0000 99.5px,#ff9a9a 111.5px,#ffd8d8 117.5px,#fffefe 122.5px,#e3e3ff 129.5px,#bfbfff 152.5px,#8585ff 177.5px,#6060ff 195.5px,#1d1dff 223.5px,#0000ff 237.5px,#0000ff 271px)"></div><div style="background:linear-gradient(90deg,#0000ff 0px,#0000ff 1.5px,#9999ff 9.5px,#ededff 13.5px,#fffafa 14.5px,#ff0707 24.5px,#ff0000 25.5px,#ff0000 99.5px,#ff2525 102.5px,#ff9898 111.5px,#ffd7d7 117.5px,#fffefe 122.5px,#e3e3ff 129.5px,#d1d1ff 141.5px,#b8b8ff 155.5px,#8585ff 177.5px,#6060ff 195.5px,#1f1fff 222.5px,#0000ff 237.5px,#0000ff 271px)"></div><div style="background:linear-gradient(90deg,#0000ff 0px,#0000ff 1.5px,#9999ff 9.5px,#ededff 13.5px,#fffbfb 14.5px,#ff0606 24.5px,#ff0000 25.5px,#ff0000 99.5px,#ff0808 100.5px,#ff8b8b 110.5px,#ffd7d7 117.5px,#fffdfd 122.5px,#e3e3ff 129.5px,#d1d1ff 141.5px,#b8b8ff 155.5px,#8383ff 178.5px,#5f5fff 195.5px,#1e1eff 222.5px,#0000ff 237.5px,#0000ff 271px)"></div><div style="background:linear-gradient(90deg,#0000ff 0px,#0000ff 1.5px,#9999ff 9.5px,#ececff 13.5px,#fffbfb 14.5px,#ff0606 24.5px,#ff0000 25.5px,#ff0000 99.5px,#ff0707 100.5px,#ff8a8a 110.5px,#ffd6d6 117.5px,#fffdfd 122.5px,#e3e3ff 129.5px,#d2d2ff 140.5px,#b9b9ff 154.5px,#8282ff 178.5px,#5e5eff 195.5px,#1e1eff 222.5px,#0000ff 237.5px,#0000ff 271px)"></div><div style="background:linear-gradient(90deg,#0000ff 0px,#0000ff 1.5px,#adadff 10.5px,#ececff 13.5px,#fffbfb 14.5px,#ff0707 24.5px,#ff0000 25.5px,#ff0000 99.5px,#ff0606 100.5px,#ff8a8a 110.5px,#ffd6d6 117.5px,#fffdfd 122.5px,#e2e2ff 129.5px,#d1d1ff 140.5px,#b8b8ff 154.5px,#8181ff 178.5px,#5b5bff 196.5px,#1b1bff 223.5px,#0000ff 236.5px,#0000ff 271px)"></div><div style="background:linear-gradient(90deg,#0000ff 0px,#0000ff 1.5px,#adadff 10.5px,#ececff 13.5px,#fffbfb 14.5px,#ff0707 24.5px,#ff0000 25.5px,#ff0000 99.5px,#ff0505 100.5px,#ff8989 110.5px,#ffd5d5 117.5px,#fffdfd 122.5px,#e2e2ff 129.5px,#d1d1ff 139.5px,#b9b9ff 153.5px,#7f7fff 179.5px,#5757ff 197.5px,#1a1aff 223.5px,#0000ff 236.5px,#0000ff 271px)"></div><div style="background:linear-gradient(90deg,#0000ff 0px,#0101ff 1.5px,#adadff 10.5px,#ededff 13.5px,#fffbfb 14.5px,#ff0808 24.5px,#ff0000 25.5px,#ff0000 99.5px,#ff0303 100.5px,#ff8888 110.5px,#ffd5d5 117.5px,#fffdfd 122.5px,#e2e2ff 129.5px,#d0d0ff 139.5px,#b8b8ff 153.5px,#7c7cff 180.5px,#5151ff 199.5px,#1515ff 225.5px,#0000ff 236.5px,#0000ff 271px)"></div><div style="background:linear-gradient(90deg,#0000ff 0px,#0101ff 1.5px,#aeaeff 10.5px,#ededff 13.5px,#fffbfb 14.5px,#ff0909 24.5px,#ff0000 25.5px,#ff0303 100.5px,#ff8888 110.5px,#ffcbcb 116.5px,#fff6f6 121.5px,#fffdfd 122.5px,#f0f0ff 125.5px,#d9d9ff 132.5px,#b9b9ff 152.5px,#7979ff 181.5px,#4848ff 202.5px,#0101ff 234.5px,#0000ff 271px)"></div><div style="background:linear-gradient(90deg,#0000ff 0px,#0202ff 1.5px,#aeaeff 10.5px,#ededff 13.5px,#fffafa 14.5px,#ff0a0a 24.5px,#ff0000 25.5px,#ff0202 100.5px,#ff8888 110.5px,#ffcbcb 116.5px,#fff6f6 121.5px,#fffdfd 122.5px,#e0e0ff 129.5px,#cdcdff 139.5px,#b0b0ff 155.5px,#7272ff 184.5px,#1313ff 225.5px,#0000ff 235.5px,#0000ff 271px)"></div><div style="background:linear-gradient(90deg,#0000ff 0px,#0202ff 1.5px,#afafff 10.5px,#eeeeff 13.5px,#fffafa 14.5px,#ff0b0b 24.5px,#ff0000 25.5px,#ff0101 100.5px,#ff8888 110.5px,#ffcccc 116.5px,#fff6f6 121.5px,#fffdfd 122.5px,#e0e0ff 129.5px,#cbcbff 139.5px,#acacff 156.5px,#4b4bff 200.5px,#0606ff 231.5px,#0000ff 236.5px,#0000ff 271px)"></div><div style="background:linear-gradient(90deg,#0000ff 0px,#0303ff 1.5px,#9b9bff 9.5px,#eeeeff 13.5px,#fffafa 14.5px,#ff0d0d 24.5px,#ff0000 25.5px,#ff0101 100.5px,#ff8989 110.5px,#ffcccc 116.5px,#fffdfd 122.5px,#dfdfff 129.5px,#cacaff 139.5px,#a8a8ff 157.5px,#4949ff 200.5px,#0101ff 233.5px,#0000ff 271px)"></div><div style="background:linear-gradient(90deg,#0000ff 0px,#0404ff 1.5px,#9b9bff 9.5px,#eeeeff 13.5px,#fffafa 14.5px,#ff0e0e 24.5px,#ff0000 25.5px,#ff0101 100.5px,#ff8989 110.5px,#ffcdcd 116.5px,#fffefe 122.5px,#dedeff 129.5px,#c8c8ff 139.5px,#a4a4ff 158.5px,#4848ff 200.5px,#0202ff 232.5px,#0000ff 271px)"></div><div style="background:linear-gradient(90deg,#0000ff 0px,#0505ff 1.5px,#9c9cff 9.5px,#eeeeff 13.5px,#fffafa 14.5px,#ff1010 24.5px,#ff0000 25.5px,#ff0101 100.5px,#ff8b8b 110.5px,#ffcece 116.5px,#ffffff 122.5px,#e0e0ff 128.5px,#c9c9ff 137.5px,#a2a2ff 158.5px,#4646ff 200.5px,#0000ff 232.5px,#0000ff 271px)"></div><div style="background:linear-gradient(90deg,#0000ff 0px,#0606ff 1.5px,#9c9cff 9.5px,#eeeeff 13.5px,#fffafa 14.5px,#ff1212 24.5px,#ff0000 25.5px,#ff0101 100.5px,#ff8c8c 110.5px,#ffcfcf 116.5px,#fff9f9 121.5px,#fefeff 122.5px,#dfdfff 128.5px,#c7c7ff 137.5px,#9e9eff 159.5px,#4545ff 200.5px,#0101ff 231.5px,#0000ff 271px)"></div><div style="background:linear-gradient(90deg,#0000ff 0px,#0606ff 1.5px,#9c9cff 9.5px,#eeeeff 13.5px,#fffbfb 14.5px,#ff1414 24.5px,#ff0000 25.5px,#ff0202 100.5px,#ff8181 109.5px,#ffc7c7 115.5px,#fffafa 121.5px,#fdfdff 122.5px,#dedeff 128.5px,#c5c5ff 137.5px,#9898ff 161.5px,#4343ff 200.5px,#0000ff 231.5px,#0000ff 271px)"></div><div style="background:linear-gradient(90deg,#0000ff 0px,#0707ff 1.5px,#afafff 10.5px,#ededff 13.5px,#fffbfb 14.5px,#ff0000 25.5px,#ff0000 99.5px,#ff0303 100.5px,#ff8383 109.5px,#ffc9c9 115.5px,#fffcfc 121.5px,#fcfcff 122.5px,#dcdcff 128.5px,#c3c3ff 137.5px,#9191ff 163.5px,#4242ff 200.5px,#0101ff 230.5px,#0000ff 271px)"></div><div style="background:linear-gradient(90deg,#0000ff 0px,#0808ff 1.5px,#afafff 10.5px,#ececff 13.5px,#fffdfd 14.5px,#ff0202 25.5px,#ff0000 99.5px,#ff0505 100.5px,#ff8686 109.5px,#ffcbcb 115.5px,#fffefe 121.5px,#dadaff 128.5px,#c1c1ff 137.5px,#8989ff 166.5px,#3d3dff 201.5px,#0000ff 230.5px,#0000ff 271px)"></div><div style="background:linear-gradient(90deg,#0000ff 0px,#0909ff 1.5px,#aeaeff 10.5px,#fffefe 14.5px,#ff0505 25.5px,#ff0000 27.5px,#ff0000 99.5px,#ff0707 100.5px,#ff8989 109.5px,#ffcece 115.5px,#fff9f9 120.5px,#fefeff 121.5px,#ddddff 127.5px,#c3c3ff 135.5px,#6262ff 184.5px,#0808ff 225.5px,#0000ff 230.5px,#0000ff 271px)"></div><div style="background:linear-gradient(90deg,#0000ff 0px,#0909ff 1.5px,#aeaeff 10.5px,#fefeff 14.5px,#ff9090 19.5px,#ff0808 25.5px,#ff0000 26.5px,#ff0000 99.5px,#ff1919 101.5px,#ff8d8d 109.5px,#ffc8c8 114.5px,#fffbfb 120.5px,#fcfcff 121.5px,#d6d6ff 128.5px,#bdbdff 137.5px,#5a5aff 187.5px,#0808ff 224.5px,#0000ff 230.5px,#0000ff 271px)"></div><div style="background:linear-gradient(90deg,#0000ff 0px,#0a0aff 1.5px,#adadff 10.5px,#fcfcff 14.5px,#ffecec 15.5px,#ff0b0b 25.5px,#ff0000 26.5px,#ff0000 99.5px,#ff8484 108.5px,#ffc1c1 113.5px,#ffefef 118.5px,#fffefe 120.5px,#d8d8ff 127.5px,#bdbdff 136.5px,#4d4dff 192.5px,#0909ff 223.5px,#0000ff 229.5px,#0000ff 271px)"></div><div style="background:linear-gradient(90deg,#0000ff 0px,#0b0bff 1.5px,#ababff 10.5px,#fafaff 14.5px,#ffefef 15.5px,#ff0f0f 25.5px,#ff0000 26.5px,#ff0000 98.5px,#ff0505 99.5px,#ff8989 108.5px,#ffc5c5 113.5px,#fff3f3 118.5px,#fffafa 119.5px,#fdfdff 120.5px,#d6d6ff 127.5px,#babaff 136.5px,#4444ff 195.5px,#0505ff 224.5px,#0000ff 229.5px,#0000ff 271px)"></div><div style="background:linear-gradient(90deg,#0000ff 0px,#0b0bff 1.5px,#aaaaff 10.5px,#f8f8ff 14.5px,#fff2f2 15.5px,#ff1313 25.5px,#ff0000 26.5px,#ff0000 98.5px,#ff1919 100.5px,#ff8e8e 108.5px,#ffcaca 113.5px,#fff7f7 118.5px,#fffefe 119.5px,#d8d8ff 126.5px,#babaff 135.5px,#4040ff 196.5px,#0202ff 225.5px,#0000ff 271px)"></div><div style="background:linear-gradient(90deg,#0000ff 0px,#1c1cff 2.5px,#bbbbff 11.5px,#f5f5ff 14.5px,#fff4f4 15.5px,#ff0202 26.5px,#ff0202 98.5px,#ff9494 108.5px,#ffd0d0 113.5px,#fffbfb 118.5px,#fcfcff 119.5px,#d5d5ff 126.5px,#b8b8ff 135.5px,#3e3eff 196.5px,#0202ff 224.5px,#0000ff 271px)"></div><div style="background:linear-gradient(90deg,#0000ff 0px,#1d1dff 2.5px,#b9b9ff 11.5px,#f2f2ff 14.5px,#fff8f8 15.5px,#ff0808 26.5px,#ff0000 27.5px,#ff0000 97.5px,#ff0808 98.5px,#ff9a9a 108.5px,#ffd5d5 113.5px,#fff8f8 117.5px,#fefeff 118.5px,#d6d6ff 125.5px,#b8b8ff 134.5px,#3a3aff 197.5px,#0101ff 224.5px,#0000ff 271px)"></div><div style="background:linear-gradient(90deg,#0000ff 0px,#2d2dff 3.5px,#c9c9ff 12.5px,#efefff 14.5px,#fffbfb 15.5px,#ff0d0d 26.5px,#ff0000 27.5px,#ff0101 97.5px,#ffa1a1 108.5px,#ffdbdb 113.5px,#fffefe 117.5px,#d3d3ff 125.5px,#b4b4ff 135.5px,#3838ff 197.5px,#0101ff 223.5px,#0000ff 271px)"></div><div style="background:linear-gradient(90deg,#0000ff 0px,#4e4eff 5.5px,#d9d9ff 13.5px,#fffefe 15.5px,#ff0000 27.5px,#ff0000 96.5px,#ff0808 97.5px,#ffa8a8 108.5px,#ffe2e2 113.5px,#fffcfc 116.5px,#fbfbff 117.5px,#d4d4ff 124.5px,#b6b6ff 133.5px,#3434ff 198.5px,#0101ff 222.5px,#0000ff 271px)"></div><div style="background:linear-gradient(90deg,#0000ff 0px,#7e7eff 8.5px,#fcfcff 15.5px,#ffeeee 16.5px,#ff0505 27.5px,#ff0000 29.5px,#ff0000 96.5px,#ffb0b0 108.5px,#ffe8e8 113.5px,#fffafa 115.5px,#fdfdff 116.5px,#d4d4ff 123.5px,#b6b6ff 132.5px,#2f2fff 199.5px,#0000ff 222.5px,#0000ff 271px)"></div><div style="background:linear-gradient(90deg,#0000ff 0px,#8d8dff 9.5px,#f8f8ff 15.5px,#fff3f3 16.5px,#ff0b0b 27.5px,#ff0000 28.5px,#ff0000 95.5px,#ff0808 96.5px,#ffb7b7 108.5px,#ffefef 113.5px,#fefeff 115.5px,#d9d9ff 121.5px,#bbbbff 129.5px,#6565ff 172.5px,#2424ff 203.5px,#0000ff 221.5px,#0000ff 271px)"></div><div style="background:linear-gradient(90deg,#0000ff 0px,#8b8bff 9.5px,#f3f3ff 15.5px,#fff8f8 16.5px,#ff6767 23.5px,#ff1212 27.5px,#ff0000 28.5px,#ff0202 95.5px,#ffbfbf 108.5px,#fff6f6 113.5px,#fffefe 114.5px,#d9d9ff 120.5px,#bbbbff 128.5px,#6161ff 173.5px,#2020ff 204.5px,#0000ff 221.5px,#0000ff 271px)"></div><div style="background:linear-gradient(90deg,#0000ff 0px,#9898ff 10.5px,#fffdfd 16.5px,#ff8484 22.5px,#ff0404 28.5px,#ff0000 30.5px,#ff0000 94.5px,#ff1818 96.5px,#ffb9b9 107.5px,#fff3f3 112.5px,#fffcfc 113.5px,#f2f2ff 115.5px,#d0d0ff 121.5px,#b3b3ff 130.5px,#2727ff 200.5px,#0000ff 219.5px,#0000ff 271px)"></div><div style="background:linear-gradient(90deg,#0000ff 0px,#9696ff 10.5px,#fcfcff 16.5px,#fff0f0 17.5px,#ff7676 23.5px,#ff0b0b 28.5px,#ff0000 29.5px,#ff0000 93.5px,#ff0404 94.5px,#ffc1c1 107.5px,#fff0f0 111.5px,#fffafa 112.5px,#fbfbff 113.5px,#dadaff 118.5px,#babaff 126.5px,#4a4aff 183.5px,#0000ff 218.5px,#0000ff 271px)"></div><div style="background:linear-gradient(90deg,#0101ff 0px,#a2a2ff 11.5px,#f6f6ff 16.5px,#fff6f6 17.5px,#ff7d7d 23.5px,#ff1212 28.5px,#ff0000 29.5px,#ff0000 93.5px,#ffc8c8 107.5px,#fff7f7 111.5px,#fefeff 112.5px,#dadaff 117.5px,#bcbcff 124.5px,#9898ff 141.5px,#2222ff 201.5px,#0000ff 218.5px,#0000ff 271px)"></div><div style="background:linear-gradient(90deg,#0101ff 0px,#9f9fff 11.5px,#f0f0ff 16.5px,#fffcfc 17.5px,#ff9a9a 22.5px,#ff0303 29.5px,#ff0000 33.5px,#ff0000 92.5px,#ff1717 94.5px,#ffd0d0 107.5px,#fffdfd 111.5px,#dadaff 116.5px,#bcbcff 123.5px,#9e9eff 137.5px,#2020ff 201.5px,#0000ff 217.5px,#0000ff 271px)"></div><div style="background:linear-gradient(90deg,#0202ff 0px,#9b9bff 11.5px,#fbfbff 17.5px,#fff1f1 18.5px,#ff8d8d 23.5px,#ff0a0a 29.5px,#ff0000 30.5px,#ff0000 91.5px,#ff0505 92.5px,#ffcbcb 106.5px,#fffafa 110.5px,#fafaff 111.5px,#d5d5ff 116.5px,#b8b8ff 123.5px,#9696ff 140.5px,#1c1cff 202.5px,#0000ff 216.5px,#0000ff 271px)"></div><div style="background:linear-gradient(90deg,#0202ff 0px,#a6a6ff 12.5px,#f5f5ff 17.5px,#fff8f8 18.5px,#ff9595 23.5px,#ff1111 29.5px,#ff0000 30.5px,#ff0202 91.5px,#ffd2d2 106.5px,#fff6f6 109.5px,#fefeff 110.5px,#d6d6ff 115.5px,#babaff 121.5px,#a3a3ff 131.5px,#7272ff 157.5px,#1a1aff 202.5px,#0000ff 215.5px,#0000ff 271px)"></div><div style="background:linear-gradient(90deg,#0303ff 0px,#a2a2ff 12.5px,#ffffff 18.5px,#ffb3b3 22.5px,#ff0202 30.5px,#ff0000 90.5px,#ffdada 106.5px,#fffcfc 109.5px,#eeeeff 111.5px,#cbcbff 116.5px,#b0b0ff 123.5px,#7272ff 156.5px,#1616ff 203.5px,#0000ff 215.5px,#0000ff 271px)"></div><div style="background:linear-gradient(90deg,#0303ff 0px,#9e9eff 12.5px,#f7f7ff 18.5px,#fff5f5 19.5px,#ffa6a6 23.5px,#ff0909 30.5px,#ff0000 31.5px,#ff0000 89.5px,#ff2525 92.5px,#ffd6d6 105.5px,#fff8f8 108.5px,#fbfbff 109.5px,#d2d2ff 114.5px,#b5b5ff 120.5px,#a0a0ff 129.5px,#7b7bff 151.5px,#4848ff 177.5px,#0000ff 214.5px,#0000ff 271px)"></div><div style="background:linear-gradient(90deg,#0404ff 0px,#a7a7ff 13.5px,#fffdfd 19.5px,#ffaeae 23.5px,#ff0f0f 30.5px,#ff0000 31.5px,#ff0000 88.5px,#ff0808 89.5px,#ffd2d2 104.5px,#ffffff 108.5px,#d3d3ff 113.5px,#b4b4ff 119.5px,#9f9fff 128.5px,#7d7dff 149.5px,#4b4bff 174.5px,#0909ff 208.5px,#0000ff 214.5px,#0000ff 271px)"></div><div style="background:linear-gradient(90deg,#0404ff 0px,#a3a3ff 13.5px,#eaeaff 18.5px,#fafaff 19.5px,#fff2f2 20.5px,#ffa0a0 24.5px,#ff0000 31.5px,#ff0000 87.5px,#ff0606 88.5px,#ffcece 103.5px,#fffcfc 107.5px,#f8f8ff 108.5px,#ceceff 113.5px,#b0b0ff 119.5px,#9c9cff 128.5px,#8080ff 147.5px,#4b4bff 173.5px,#0909ff 207.5px,#0000ff 213.5px,#0000ff 271px)"></div><div style="background:linear-gradient(90deg,#0404ff 0px,#9f9fff 13.5px,#e3e3ff 18.5px,#f3f3ff 19.5px,#fff9f9 20.5px,#ffa8a8 24.5px,#ff0707 31.5px,#ff0000 32.5px,#ff0000 86.5px,#ff0404 87.5px,#ffcccc 102.5px,#fff9f9 106.5px,#fafaff 107.5px,#cfcfff 112.5px,#afafff 118.5px,#9c9cff 126.5px,#8080ff 146.5px,#4949ff 173.5px,#0404ff 209.5px,#0000ff 215.5px,#0000ff 271px)"></div><div style="background:linear-gradient(90deg,#0505ff 0px,#a7a7ff 14.5px,#ededff 19.5px,#fefeff 20.5px,#ffc5c5 23.5px,#ff0e0e 31.5px,#ff0000 32.5px,#ff0000 85.5px,#ff0303 86.5px,#ffc9c9 101.5px,#fff7f7 105.5px,#fdfdff 106.5px,#d0d0ff 111.5px,#afafff 117.5px,#9b9bff 124.5px,#7e7eff 146.5px,#4747ff 173.5px,#0000ff 211.5px,#0000ff 271px)"></div><div style="background:linear-gradient(90deg,#0505ff 0px,#a3a3ff 14.5px,#e7e7ff 19.5px,#f8f8ff 20.5px,#fff4f4 21.5px,#ffa1a1 25.5px,#ff0000 32.5px,#ff0202 85.5px,#ffbbbb 99.5px,#fefeff 105.5px,#cacaff 111.5px,#aaaaff 117.5px,#9696ff 125.5px,#8080ff 144.5px,#4646ff 173.5px,#0000ff 210.5px,#0000ff 271px)"></div><div style="background:linear-gradient(90deg,#0505ff 0px,#9f9fff 14.5px,#e1e1ff 19.5px,#f1f1ff 20.5px,#fffbfb 21.5px,#ffa9a9 25.5px,#ff0606 32.5px,#ff0000 33.5px,#ff0101 84.5px,#ffaeae 97.5px,#fffefe 104.5px,#cbcbff 110.5px,#a9a9ff 116.5px,#9595ff 123.5px,#7e7eff 144.5px,#4242ff 174.5px,#0000ff 210.5px,#0000ff 271px)"></div><div style="background:linear-gradient(90deg,#0505ff 0px,#a7a7ff 15.5px,#dbdbff 19.5px,#fcfcff 21.5px,#ffefef 22.5px,#ff9a9a 26.5px,#ff0d0d 32.5px,#ff0000 33.5px,#ff0000 83.5px,#ffaeae 96.5px,#fffdfd 103.5px,#c4c4ff 110.5px,#a4a4ff 116.5px,#9292ff 123.5px,#7e7eff 143.5px,#3f3fff 175.5px,#0000ff 209.5px,#0000ff 271px)"></div><div style="background:linear-gradient(90deg,#0505ff 0px,#a2a2ff 15.5px,#d6d6ff 19.5px,#f6f6ff 21.5px,#fff6f6 22.5px,#ffa3a3 26.5px,#ff1414 32.5px,#ff0000 33.5px,#ff0000 82.5px,#ffa1a1 94.5px,#fffdfd 102.5px,#c4c4ff 109.5px,#a2a2ff 115.5px,#8f8fff 122.5px,#7d7dff 143.5px,#3939ff 177.5px,#0000ff 208.5px,#0000ff 271px)"></div><div style="background:linear-gradient(90deg,#0505ff 0px,#9e9eff 15.5px,#d0d0ff 19.5px,#fffefe 22.5px,#ffacac 26.5px,#ff0505 33.5px,#ff0000 35.5px,#ff0000 81.5px,#ffaeae 94.5px,#fffdfd 101.5px,#c3c3ff 108.5px,#a1a1ff 114.5px,#8c8cff 121.5px,#7d7dff 142.5px,#3232ff 180.5px,#0000ff 207.5px,#0000ff 271px)"></div><div style="background:linear-gradient(90deg,#0505ff 0px,#9a9aff 15.5px,#cacaff 19.5px,#f9f9ff 22.5px,#fff3f3 23.5px,#ff9e9e 27.5px,#ff0c0c 33.5px,#ff0000 34.5px,#ff0000 80.5px,#ff1919 82.5px,#ffa3a3 92.5px,#fffefe 100.5px,#c2c2ff 107.5px,#9f9fff 113.5px,#8a8aff 120.5px,#8383ff 131.5px,#7979ff 143.5px,#2f2fff 181.5px,#0000ff 207.5px,#0000ff 271px)"></div><div style="background:linear-gradient(90deg,#0404ff 0px,#9595ff 15.5px,#d2d2ff 20.5px,#f1f1ff 22.5px,#fffcfc 23.5px,#ffbfbf 26.5px,#ff1515 33.5px,#ff0000 34.5px,#ff0000 79.5px,#ff0909 80.5px,#ffa4a4 91.5px,#fff5f5 98.5px,#ffffff 99.5px,#c1c1ff 106.5px,#9d9dff 112.5px,#8787ff 119.5px,#8080ff 129.5px,#7a7aff 141.5px,#5555ff 160.5px,#0000ff 206.5px,#0000ff 271px)"></div><div style="background:linear-gradient(90deg,#0303ff 0px,#9a9aff 16.5px,#cacaff 20.5px,#fafaff 23.5px,#fff2f2 24.5px,#ffb3b3 27.5px,#ff0707 34.5px,#ff0000 35.5px,#ff0000 78.5px,#ff0707 79.5px,#ffa5a5 90.5px,#fff7f7 97.5px,#fdfdff 98.5px,#bfbfff 105.5px,#9b9bff 111.5px,#8383ff 118.5px,#7c7cff 127.5px,#7b7bff 139.5px,#5f5fff 155.5px,#2121ff 187.5px,#0000ff 205.5px,#0000ff 271px)"></div><div style="background:linear-gradient(90deg,#0101ff 0px,#9595ff 16.5px,#c3c3ff 20.5px,#fffcfc 24.5px,#ffbebe 27.5px,#ff1111 34.5px,#ff0000 35.5px,#ff0000 77.5px,#ff0404 78.5px,#ffa6a6 89.5px,#ffeeee 95.5px,#fff9f9 96.5px,#fbfbff 97.5px,#bdbdff 104.5px,#9898ff 110.5px,#8080ff 117.5px,#7979ff 125.5px,#7979ff 139.5px,#6060ff 154.5px,#2121ff 186.5px,#0000ff 205.5px,#0000ff 271px)"></div><div style="background:linear-gradient(90deg,#0000ff 0px,#8f8fff 16.5px,#bbbbff 20.5px,#e7e7ff 23.5px,#f8f8ff 24.5px,#fff4f4 25.5px,#ffb3b3 28.5px,#ff1c1c 34.5px,#ff0707 35.5px,#ff0000 36.5px,#ff0202 77.5px,#ffb5b5 89.5px,#fffbfb 95.5px,#f9f9ff 96.5px,#bbbbff 103.5px,#9191ff 110.5px,#7a7aff 117.5px,#7575ff 126.5px,#7878ff 138.5px,#6060ff 153.5px,#1e1eff 187.5px,#0000ff 204.5px,#0000ff 271px)"></div><div style="background:linear-gradient(90deg,#0000ff 0px,#1f1fff 4.5px,#9292ff 17.5px,#c0c0ff 21.5px,#ededff 24.5px,#fffefe 25.5px,#ffbfbf 28.5px,#ff2828 34.5px,#ff0000 36.5px,#ff0000 76.5px,#ffc3c3 89.5px,#fffefe 94.5px,#b8b8ff 102.5px,#8d8dff 109.5px,#7676ff 116.5px,#7070ff 124.5px,#7575ff 138.5px,#5f5fff 153.5px,#1717ff 190.5px,#0000ff 203.5px,#0000ff 271px)"></div><div style="background:linear-gradient(90deg,#0000ff 0px,#0202ff 1.5px,#8b8bff 17.5px,#b7b7ff 21.5px,#e3e3ff 24.5px,#f5f5ff 25.5px,#fff6f6 26.5px,#ffb4b4 29.5px,#ff3535 34.5px,#ff0d0d 36.5px,#ff0000 37.5px,#ff0000 75.5px,#ff1919 77.5px,#ffc3c3 88.5px,#fff6f6 92.5px,#fdfdff 93.5px,#bdbdff 100.5px,#8f8fff 107.5px,#7474ff 114.5px,#6b6bff 122.5px,#7373ff 138.5px,#5f5fff 152.5px,#0f0fff 193.5px,#0000ff 202.5px,#0000ff 271px)"></div><div style="background:linear-gradient(90deg,#0000ff 0px,#0000ff 1.5px,#8383ff 17.5px,#aeaeff 21.5px,#d9d9ff 24.5px,#fcfcff 26.5px,#ffeeee 27.5px,#ffa8a8 30.5px,#ff4343 34.5px,#ff0a0a 37.5px,#ff0000 38.5px,#ff0000 74.5px,#ff0808 75.5px,#ffd1d1 88.5px,#fff8f8 91.5px,#fbfbff 92.5px,#b9b9ff 99.5px,#8b8bff 106.5px,#7070ff 113.5px,#6767ff 121.5px,#7070ff 138.5px,#5e5eff 152.5px,#0101ff 200.5px,#0000ff 271px)"></div><div style="background:linear-gradient(90deg,#0000ff 0px,#0303ff 2.5px,#7c7cff 17.5px,#a5a5ff 21.5px,#cfcfff 24.5px,#f1f1ff 26.5px,#fff9f9 27.5px,#ffb6b6 30.5px,#ff5252 34.5px,#ff1818 37.5px,#ff0909 38.5px,#ff0000 39.5px,#ff0000 73.5px,#ff0505 74.5px,#ff7171 81.5px,#ffdfdf 88.5px,#fff9f9 90.5px,#f9f9ff 91.5px,#bebeff 97.5px,#8d8dff 104.5px,#6e6eff 111.5px,#6262ff 118.5px,#6666ff 128.5px,#6d6dff 138.5px,#5c5cff 152.5px,#0101ff 199.5px,#0000ff 271px)"></div><div style="background:linear-gradient(90deg,#0000ff 0px,#0000ff 2.5px,#7474ff 17.5px,#a8a8ff 22.5px,#d4d4ff 25.5px,#f9f9ff 27.5px,#fff1f1 28.5px,#ff4c4c 35.5px,#ff1717 38.5px,#ff0909 39.5px,#ff0000 40.5px,#ff0000 72.5px,#ff0303 73.5px,#ff5d5d 79.5px,#ffdede 87.5px,#fffafa 89.5px,#f7f7ff 90.5px,#c4c4ff 95.5px,#8f8fff 102.5px,#6d6dff 109.5px,#5e5eff 116.5px,#5f5fff 125.5px,#6a6aff 137.5px,#5e5eff 150.5px,#0000ff 199.5px,#0000ff 271px)"></div><div style="background:linear-gradient(90deg,#0000ff 0px,#0101ff 3.5px,#6c6cff 17.5px,#9f9fff 22.5px,#cacaff 25.5px,#fffdfd 28.5px,#ffa0a0 32.5px,#ff5c5c 35.5px,#ff2626 38.5px,#ff0909 40.5px,#ff0000 41.5px,#ff0202 72.5px,#ff4949 77.5px,#ffebeb 87.5px,#fff9f9 88.5px,#f7f7ff 89.5px,#c1c1ff 94.5px,#8b8bff 101.5px,#6868ff 108.5px,#5858ff 115.5px,#5959ff 124.5px,#6767ff 137.5px,#5d5dff 149.5px,#0000ff 198.5px,#0000ff 271px)"></div><div style="background:linear-gradient(90deg,#0000ff 0px,#0303ff 4.5px,#6363ff 17.5px,#9696ff 22.5px,#d0d0ff 26.5px,#f5f5ff 28.5px,#fff4f4 29.5px,#ff6c6c 35.5px,#ff3535 38.5px,#ff0909 41.5px,#ff0000 42.5px,#ff0101 71.5px,#ff4545 76.5px,#fff7f7 87.5px,#f8f8ff 88.5px,#c8c8ff 92.5px,#9494ff 98.5px,#7070ff 104.5px,#5757ff 111.5px,#5050ff 119.5px,#6464ff 138.5px,#5a5aff 150.5px,#0000ff 198.5px,#0000ff 271px)"></div></div><svg width="752" height="309" viewBox="0 0 752 309" style="position:absolute;left:0;top:0"><text x="10.3" y="20.5" font-family="Liberation Sans, sans-serif" font-weight="bold" font-size="21.5" letter-spacing="1.2">(a)</text><text x="376.3" y="19.8" font-family="Liberation Sans, sans-serif" font-weight="bold" font-size="21.5" letter-spacing="1.2">(b)</text><defs><clipPath id="ca"><rect x="59" y="10" width="308" height="252"/></clipPath></defs><g fill="none" stroke-linejoin="round" stroke-linecap="round" clip-path="url(#ca)"><path d="M59,258.5 L197,258.5 L200,259 L368,259" stroke="#ff6a1e" stroke-width="1.8"/><path d="M59.0,255.82 L60.0,255.35 L61.0,254.90 L62.0,254.47 L63.0,254.04 L64.0,253.62 L65.0,253.21 L66.0,252.81 L67.0,252.41 L68.0,252.01 L69.0,251.61 L70.0,251.22 L71.0,250.81 L72.0,250.41 L73.0,249.99 L74.0,249.57 L75.0,249.14 L76.0,248.70 L77.0,248.24 L78.0,247.77 L79.0,247.28 L80.0,246.77 L81.0,246.24 L82.0,245.69 L83.0,245.12 L84.0,244.51 L85.0,243.89 L86.0,243.23 L87.0,242.54 L88.0,241.82 L89.0,241.06 L90.0,240.27 L91.0,239.44 L92.0,238.58 L93.0,237.71 L94.0,236.81 L95.0,235.90 L96.0,234.99 L97.0,234.07 L98.0,233.16 L99.0,232.26 L100.0,231.37 L101.0,230.51 L102.0,229.68 L103.0,228.87 L104.0,228.11 L105.0,227.39 L106.0,226.71 L107.0,226.08 L108.0,225.49 L109.0,224.94 L110.0,224.43 L111.0,223.96 L112.0,223.53 L113.0,223.14 L114.0,222.79 L115.0,222.47 L116.0,222.19 L117.0,221.94 L118.0,221.72 L119.0,221.54 L120.0,221.39 L121.0,221.27 L122.0,221.19 L123.0,221.13 L124.0,221.10 L125.0,221.10 L126.0,221.12 L127.0,221.17 L128.0,221.25 L129.0,221.35 L130.0,221.47 L131.0,221.62 L132.0,221.79 L133.0,221.98 L134.0,222.19 L135.0,222.42 L136.0,222.66 L137.0,222.93 L138.0,223.21 L139.0,223.51 L140.0,223.82 L141.0,224.15 L142.0,224.49 L143.0,224.84 L144.0,225.19 L145.0,225.55 L146.0,225.91 L147.0,226.26 L148.0,226.60 L149.0,226.94 L150.0,227.26 L151.0,227.56 L152.0,227.83 L153.0,228.09 L154.0,228.31 L155.0,228.50 L156.0,228.66 L157.0,228.78 L158.0,228.85 L159.0,228.88 L160.0,228.86 L161.0,228.78 L162.0,228.66 L163.0,228.49 L164.0,228.27 L165.0,228.01 L166.0,227.71 L167.0,227.37 L168.0,226.99 L169.0,226.57 L170.0,226.12 L171.0,225.63 L172.0,225.11 L173.0,224.57 L174.0,223.99 L175.0,223.39 L176.0,222.76 L177.0,222.11 L178.0,221.44 L179.0,220.75 L180.0,220.05 L181.0,219.33 L182.0,218.59 L183.0,217.84 L184.0,217.09 L185.0,216.32 L186.0,215.54 L187.0,214.76 L188.0,213.98 L189.0,213.19 L190.0,212.39 L191.0,211.60 L192.0,210.80 L193.0,210.00 L194.0,209.21 L195.0,208.42 L196.0,207.63 L197.0,206.84 L198.0,206.06 L199.0,205.29 L200.0,204.53 L201.0,203.77 L202.0,203.03 L203.0,202.29 L204.0,201.57 L205.0,200.87 L206.0,200.18 L207.0,199.50 L208.0,198.84 L209.0,198.20 L210.0,197.58 L211.0,196.98 L212.0,196.40 L213.0,195.84 L214.0,195.31 L215.0,194.80 L216.0,194.32 L217.0,193.87 L218.0,193.44 L219.0,193.04 L220.0,192.68 L221.0,192.34 L222.0,192.04 L223.0,191.78 L224.0,191.54 L225.0,191.35 L226.0,191.19 L227.0,191.07 L228.0,190.99 L229.0,190.95 L230.0,190.95 L231.0,191.00 L232.0,191.08 L233.0,191.21 L234.0,191.38 L235.0,191.58 L236.0,191.82 L237.0,192.10 L238.0,192.40 L239.0,192.75 L240.0,193.12 L241.0,193.53 L242.0,193.96 L243.0,194.42 L244.0,194.91 L245.0,195.43 L246.0,195.97 L247.0,196.54 L248.0,197.12 L249.0,197.73 L250.0,198.36 L251.0,199.00 L252.0,199.67 L253.0,200.35 L254.0,201.04 L255.0,201.75 L256.0,202.48 L257.0,203.21 L258.0,203.95 L259.0,204.71 L260.0,205.47 L261.0,206.24 L262.0,207.01 L263.0,207.79 L264.0,208.57 L265.0,209.36 L266.0,210.14 L267.0,210.93 L268.0,211.71 L269.0,212.49 L270.0,213.27 L271.0,214.04 L272.0,214.81 L273.0,215.57 L274.0,216.32 L275.0,217.07 L276.0,217.81 L277.0,218.55 L278.0,219.28 L279.0,220.00 L280.0,220.72 L281.0,221.44 L282.0,222.14 L283.0,222.84 L284.0,223.54 L285.0,224.22 L286.0,224.90 L287.0,225.58 L288.0,226.25 L289.0,226.91 L290.0,227.56 L291.0,228.21 L292.0,228.85 L293.0,229.49 L294.0,230.12 L295.0,230.74 L296.0,231.35 L297.0,231.96 L298.0,232.56 L299.0,233.16 L300.0,233.75 L301.0,234.33 L302.0,234.90 L303.0,235.47 L304.0,236.02 L305.0,236.58 L306.0,237.12 L307.0,237.66 L308.0,238.19 L309.0,238.71 L310.0,239.23 L311.0,239.73 L312.0,240.24 L313.0,240.73 L314.0,241.21 L315.0,241.69 L316.0,242.16 L317.0,242.62 L318.0,243.08 L319.0,243.52 L320.0,243.96 L321.0,244.39 L322.0,244.82 L323.0,245.23 L324.0,245.64 L325.0,246.04 L326.0,246.43 L327.0,246.81 L328.0,247.19 L329.0,247.56 L330.0,247.91 L331.0,248.26 L332.0,248.60 L333.0,248.94 L334.0,249.26 L335.0,249.58 L336.0,249.89 L337.0,250.19 L338.0,250.48 L339.0,250.76 L340.0,251.03 L341.0,251.30 L342.0,251.55 L343.0,251.80 L344.0,252.04 L345.0,252.27 L346.0,252.49 L347.0,252.70 L348.0,252.90 L349.0,253.09 L350.0,253.28 L351.0,253.45 L352.0,253.62 L353.0,253.77 L354.0,253.92 L355.0,254.06 L356.0,254.19 L357.0,254.31 L358.0,254.42 L359.0,254.52 L360.0,254.61 L361.0,254.69 L362.0,254.76 L363.0,254.82 L364.0,254.87 L365.0,254.91 L366.0,254.94 L367.0,254.97 L368.0,254.98" stroke="#a6d3ea" stroke-width="1.5"/><path d="M59.0,256.02 L60.0,254.79 L61.0,253.63 L62.0,252.54 L63.0,251.52 L64.0,250.57 L65.0,249.67 L66.0,248.82 L67.0,248.03 L68.0,247.29 L69.0,246.59 L70.0,245.93 L71.0,245.31 L72.0,244.72 L73.0,244.16 L74.0,243.62 L75.0,243.11 L76.0,242.61 L77.0,242.12 L78.0,241.65 L79.0,241.17 L80.0,240.67 L81.0,240.11 L82.0,239.47 L83.0,238.72 L84.0,237.82 L85.0,236.75 L86.0,235.49 L87.0,234.00 L88.0,232.28 L89.0,230.37 L90.0,228.31 L91.0,226.13 L92.0,223.86 L93.0,221.55 L94.0,219.23 L95.0,216.94 L96.0,214.72 L97.0,212.60 L98.0,210.60 L99.0,208.73 L100.0,206.98 L101.0,205.33 L102.0,203.79 L103.0,202.34 L104.0,200.99 L105.0,199.71 L106.0,198.52 L107.0,197.39 L108.0,196.33 L109.0,195.34 L110.0,194.42 L111.0,193.56 L112.0,192.77 L113.0,192.04 L114.0,191.37 L115.0,190.76 L116.0,190.21 L117.0,189.72 L118.0,189.28 L119.0,188.90 L120.0,188.57 L121.0,188.29 L122.0,188.07 L123.0,187.89 L124.0,187.76 L125.0,187.67 L126.0,187.63 L127.0,187.63 L128.0,187.68 L129.0,187.77 L130.0,187.89 L131.0,188.06 L132.0,188.26 L133.0,188.50 L134.0,188.77 L135.0,189.07 L136.0,189.40 L137.0,189.77 L138.0,190.16 L139.0,190.58 L140.0,191.03 L141.0,191.49 L142.0,191.98 L143.0,192.47 L144.0,192.96 L145.0,193.46 L146.0,193.94 L147.0,194.41 L148.0,194.85 L149.0,195.26 L150.0,195.65 L151.0,195.99 L152.0,196.28 L153.0,196.52 L154.0,196.69 L155.0,196.80 L156.0,196.84 L157.0,196.80 L158.0,196.69 L159.0,196.50 L160.0,196.23 L161.0,195.90 L162.0,195.49 L163.0,195.02 L164.0,194.48 L165.0,193.88 L166.0,193.22 L167.0,192.49 L168.0,191.72 L169.0,190.88 L170.0,189.99 L171.0,189.05 L172.0,188.07 L173.0,187.03 L174.0,185.95 L175.0,184.82 L176.0,183.66 L177.0,182.45 L178.0,181.21 L179.0,179.93 L180.0,178.62 L181.0,177.28 L182.0,175.90 L183.0,174.50 L184.0,173.08 L185.0,171.63 L186.0,170.16 L187.0,168.67 L188.0,167.16 L189.0,165.64 L190.0,164.10 L191.0,162.55 L192.0,160.99 L193.0,159.42 L194.0,157.85 L195.0,156.28 L196.0,154.70 L197.0,153.12 L198.0,151.55 L199.0,149.98 L200.0,148.41 L201.0,146.86 L202.0,145.32 L203.0,143.81 L204.0,142.33 L205.0,140.88 L206.0,139.47 L207.0,138.11 L208.0,136.81 L209.0,135.56 L210.0,134.38 L211.0,133.25 L212.0,132.19 L213.0,131.19 L214.0,130.25 L215.0,129.37 L216.0,128.55 L217.0,127.79 L218.0,127.09 L219.0,126.45 L220.0,125.87 L221.0,125.36 L222.0,124.90 L223.0,124.50 L224.0,124.17 L225.0,123.89 L226.0,123.67 L227.0,123.51 L228.0,123.42 L229.0,123.38 L230.0,123.40 L231.0,123.48 L232.0,123.62 L233.0,123.82 L234.0,124.07 L235.0,124.39 L236.0,124.77 L237.0,125.20 L238.0,125.69 L239.0,126.25 L240.0,126.86 L241.0,127.52 L242.0,128.25 L243.0,129.03 L244.0,129.87 L245.0,130.75 L246.0,131.68 L247.0,132.67 L248.0,133.69 L249.0,134.76 L250.0,135.87 L251.0,137.02 L252.0,138.20 L253.0,139.42 L254.0,140.67 L255.0,141.95 L256.0,143.26 L257.0,144.59 L258.0,145.95 L259.0,147.34 L260.0,148.74 L261.0,150.17 L262.0,151.62 L263.0,153.08 L264.0,154.57 L265.0,156.06 L266.0,157.57 L267.0,159.09 L268.0,160.63 L269.0,162.17 L270.0,163.72 L271.0,165.28 L272.0,166.84 L273.0,168.41 L274.0,169.98 L275.0,171.54 L276.0,173.11 L277.0,174.68 L278.0,176.24 L279.0,177.80 L280.0,179.35 L281.0,180.89 L282.0,182.43 L283.0,183.95 L284.0,185.46 L285.0,186.96 L286.0,188.44 L287.0,189.91 L288.0,191.36 L289.0,192.79 L290.0,194.20 L291.0,195.59 L292.0,196.96 L293.0,198.31 L294.0,199.65 L295.0,200.96 L296.0,202.26 L297.0,203.54 L298.0,204.80 L299.0,206.04 L300.0,207.26 L301.0,208.46 L302.0,209.64 L303.0,210.81 L304.0,211.96 L305.0,213.09 L306.0,214.20 L307.0,215.30 L308.0,216.37 L309.0,217.43 L310.0,218.47 L311.0,219.49 L312.0,220.50 L313.0,221.49 L314.0,222.46 L315.0,223.41 L316.0,224.34 L317.0,225.26 L318.0,226.16 L319.0,227.04 L320.0,227.91 L321.0,228.76 L322.0,229.59 L323.0,230.41 L324.0,231.21 L325.0,231.99 L326.0,232.75 L327.0,233.50 L328.0,234.23 L329.0,234.95 L330.0,235.65 L331.0,236.33 L332.0,237.00 L333.0,237.65 L334.0,238.28 L335.0,238.90 L336.0,239.50 L337.0,240.09 L338.0,240.66 L339.0,241.22 L340.0,241.76 L341.0,242.28 L342.0,242.79 L343.0,243.28 L344.0,243.76 L345.0,244.22 L346.0,244.67 L347.0,245.10 L348.0,245.52 L349.0,245.92 L350.0,246.31 L351.0,246.68 L352.0,247.04 L353.0,247.38 L354.0,247.71 L355.0,248.02 L356.0,248.32 L357.0,248.60 L358.0,248.87 L359.0,249.13 L360.0,249.37 L361.0,249.60 L362.0,249.81 L363.0,250.01 L364.0,250.20 L365.0,250.37 L366.0,250.53 L367.0,250.67 L368.0,250.80" stroke="#b2e08a" stroke-width="1.5"/><path d="M59.0,255.72 L60.0,255.02 L61.0,254.37 L62.0,253.76 L63.0,253.18 L64.0,252.63 L65.0,252.11 L66.0,251.61 L67.0,251.12 L68.0,250.64 L69.0,250.17 L70.0,249.70 L71.0,249.23 L72.0,248.75 L73.0,248.26 L74.0,247.75 L75.0,247.21 L76.0,246.65 L77.0,246.06 L78.0,245.43 L79.0,244.76 L80.0,244.04 L81.0,243.27 L82.0,242.45 L83.0,241.56 L84.0,240.61 L85.0,239.60 L86.0,238.52 L87.0,237.38 L88.0,236.20 L89.0,234.98 L90.0,233.72 L91.0,232.42 L92.0,231.10 L93.0,229.76 L94.0,228.41 L95.0,227.05 L96.0,225.69 L97.0,224.34 L98.0,222.99 L99.0,221.66 L100.0,220.36 L101.0,219.08 L102.0,217.84 L103.0,216.63 L104.0,215.47 L105.0,214.37 L106.0,213.32 L107.0,212.34 L108.0,211.42 L109.0,210.59 L110.0,209.82 L111.0,209.14 L112.0,208.52 L113.0,207.98 L114.0,207.50 L115.0,207.09 L116.0,206.73 L117.0,206.44 L118.0,206.21 L119.0,206.03 L120.0,205.90 L121.0,205.82 L122.0,205.79 L123.0,205.80 L124.0,205.86 L125.0,205.95 L126.0,206.09 L127.0,206.26 L128.0,206.46 L129.0,206.69 L130.0,206.95 L131.0,207.23 L132.0,207.54 L133.0,207.87 L134.0,208.21 L135.0,208.57 L136.0,208.94 L137.0,209.33 L138.0,209.72 L139.0,210.12 L140.0,210.52 L141.0,210.92 L142.0,211.32 L143.0,211.71 L144.0,212.10 L145.0,212.48 L146.0,212.85 L147.0,213.20 L148.0,213.53 L149.0,213.85 L150.0,214.15 L151.0,214.43 L152.0,214.68 L153.0,214.91 L154.0,215.12 L155.0,215.29 L156.0,215.44 L157.0,215.56 L158.0,215.64 L159.0,215.70 L160.0,215.71 L161.0,215.69 L162.0,215.63 L163.0,215.54 L164.0,215.40 L165.0,215.21 L166.0,214.99 L167.0,214.71 L168.0,214.39 L169.0,214.02 L170.0,213.60 L171.0,213.13 L172.0,212.61 L173.0,212.03 L174.0,211.39 L175.0,210.69 L176.0,209.94 L177.0,209.12 L178.0,208.24 L179.0,207.30 L180.0,206.30 L181.0,205.25 L182.0,204.15 L183.0,203.01 L184.0,201.84 L185.0,200.63 L186.0,199.40 L187.0,198.14 L188.0,196.86 L189.0,195.58 L190.0,194.28 L191.0,192.98 L192.0,191.68 L193.0,190.39 L194.0,189.11 L195.0,187.85 L196.0,186.61 L197.0,185.40 L198.0,184.21 L199.0,183.06 L200.0,181.95 L201.0,180.87 L202.0,179.82 L203.0,178.81 L204.0,177.84 L205.0,176.90 L206.0,176.00 L207.0,175.13 L208.0,174.30 L209.0,173.50 L210.0,172.74 L211.0,172.01 L212.0,171.32 L213.0,170.67 L214.0,170.05 L215.0,169.47 L216.0,168.93 L217.0,168.42 L218.0,167.95 L219.0,167.51 L220.0,167.11 L221.0,166.75 L222.0,166.42 L223.0,166.13 L224.0,165.88 L225.0,165.66 L226.0,165.48 L227.0,165.34 L228.0,165.23 L229.0,165.16 L230.0,165.13 L231.0,165.14 L232.0,165.18 L233.0,165.27 L234.0,165.38 L235.0,165.54 L236.0,165.74 L237.0,165.97 L238.0,166.24 L239.0,166.55 L240.0,166.89 L241.0,167.28 L242.0,167.70 L243.0,168.16 L244.0,168.66 L245.0,169.19 L246.0,169.77 L247.0,170.38 L248.0,171.04 L249.0,171.73 L250.0,172.45 L251.0,173.21 L252.0,174.01 L253.0,174.83 L254.0,175.69 L255.0,176.57 L256.0,177.49 L257.0,178.42 L258.0,179.38 L259.0,180.37 L260.0,181.37 L261.0,182.40 L262.0,183.44 L263.0,184.50 L264.0,185.57 L265.0,186.66 L266.0,187.76 L267.0,188.87 L268.0,189.99 L269.0,191.12 L270.0,192.25 L271.0,193.39 L272.0,194.53 L273.0,195.67 L274.0,196.81 L275.0,197.95 L276.0,199.09 L277.0,200.23 L278.0,201.35 L279.0,202.47 L280.0,203.58 L281.0,204.69 L282.0,205.77 L283.0,206.85 L284.0,207.91 L285.0,208.95 L286.0,209.98 L287.0,210.99 L288.0,211.98 L289.0,212.95 L290.0,213.91 L291.0,214.85 L292.0,215.78 L293.0,216.69 L294.0,217.58 L295.0,218.47 L296.0,219.33 L297.0,220.19 L298.0,221.03 L299.0,221.86 L300.0,222.68 L301.0,223.48 L302.0,224.28 L303.0,225.06 L304.0,225.83 L305.0,226.59 L306.0,227.34 L307.0,228.07 L308.0,228.80 L309.0,229.51 L310.0,230.21 L311.0,230.91 L312.0,231.59 L313.0,232.25 L314.0,232.91 L315.0,233.56 L316.0,234.19 L317.0,234.82 L318.0,235.43 L319.0,236.04 L320.0,236.63 L321.0,237.21 L322.0,237.78 L323.0,238.34 L324.0,238.88 L325.0,239.42 L326.0,239.95 L327.0,240.47 L328.0,240.97 L329.0,241.47 L330.0,241.95 L331.0,242.42 L332.0,242.89 L333.0,243.34 L334.0,243.78 L335.0,244.22 L336.0,244.64 L337.0,245.05 L338.0,245.45 L339.0,245.84 L340.0,246.22 L341.0,246.59 L342.0,246.95 L343.0,247.30 L344.0,247.64 L345.0,247.98 L346.0,248.30 L347.0,248.61 L348.0,248.91 L349.0,249.20 L350.0,249.48 L351.0,249.75 L352.0,250.01 L353.0,250.26 L354.0,250.51 L355.0,250.74 L356.0,250.96 L357.0,251.18 L358.0,251.38 L359.0,251.57 L360.0,251.76 L361.0,251.93 L362.0,252.10 L363.0,252.26 L364.0,252.40 L365.0,252.54 L366.0,252.67 L367.0,252.79 L368.0,252.90" stroke="#1f78b4" stroke-width="1.5"/><path d="M59.0,256.03 L60.0,255.33 L61.0,254.48 L62.0,253.51 L63.0,252.43 L64.0,251.25 L65.0,249.99 L66.0,248.66 L67.0,247.29 L68.0,245.89 L69.0,244.46 L70.0,243.04 L71.0,241.64 L72.0,240.27 L73.0,238.94 L74.0,237.68 L75.0,236.50 L76.0,235.42 L77.0,234.44 L78.0,233.60 L79.0,232.88 L80.0,232.21 L81.0,231.54 L82.0,230.78 L83.0,229.90 L84.0,228.82 L85.0,227.52 L86.0,225.93 L87.0,224.04 L88.0,221.88 L89.0,219.50 L90.0,216.94 L91.0,214.24 L92.0,211.42 L93.0,208.49 L94.0,205.48 L95.0,202.41 L96.0,199.29 L97.0,196.14 L98.0,192.99 L99.0,189.85 L100.0,186.74 L101.0,183.69 L102.0,180.71 L103.0,177.82 L104.0,175.04 L105.0,172.40 L106.0,169.90 L107.0,167.57 L108.0,165.42 L109.0,163.45 L110.0,161.63 L111.0,159.98 L112.0,158.48 L113.0,157.14 L114.0,155.93 L115.0,154.86 L116.0,153.93 L117.0,153.12 L118.0,152.44 L119.0,151.87 L120.0,151.40 L121.0,151.05 L122.0,150.79 L123.0,150.63 L124.0,150.55 L125.0,150.56 L126.0,150.64 L127.0,150.79 L128.0,151.01 L129.0,151.28 L130.0,151.61 L131.0,151.99 L132.0,152.41 L133.0,152.86 L134.0,153.35 L135.0,153.86 L136.0,154.38 L137.0,154.92 L138.0,155.46 L139.0,156.01 L140.0,156.54 L141.0,157.07 L142.0,157.58 L143.0,158.06 L144.0,158.52 L145.0,158.94 L146.0,159.32 L147.0,159.65 L148.0,159.93 L149.0,160.15 L150.0,160.31 L151.0,160.39 L152.0,160.40 L153.0,160.33 L154.0,160.17 L155.0,159.94 L156.0,159.63 L157.0,159.26 L158.0,158.84 L159.0,158.37 L160.0,157.86 L161.0,157.31 L162.0,156.73 L163.0,156.09 L164.0,155.38 L165.0,154.61 L166.0,153.76 L167.0,152.81 L168.0,151.76 L169.0,150.60 L170.0,149.32 L171.0,147.91 L172.0,146.37 L173.0,144.71 L174.0,142.94 L175.0,141.05 L176.0,139.06 L177.0,136.98 L178.0,134.81 L179.0,132.55 L180.0,130.22 L181.0,127.81 L182.0,125.35 L183.0,122.82 L184.0,120.24 L185.0,117.62 L186.0,114.96 L187.0,112.26 L188.0,109.54 L189.0,106.80 L190.0,104.05 L191.0,101.29 L192.0,98.53 L193.0,95.77 L194.0,93.03 L195.0,90.31 L196.0,87.61 L197.0,84.94 L198.0,82.31 L199.0,79.72 L200.0,77.19 L201.0,74.71 L202.0,72.29 L203.0,69.94 L204.0,67.67 L205.0,65.48 L206.0,63.37 L207.0,61.33 L208.0,59.38 L209.0,57.50 L210.0,55.71 L211.0,54.00 L212.0,52.37 L213.0,50.83 L214.0,49.38 L215.0,48.01 L216.0,46.72 L217.0,45.53 L218.0,44.42 L219.0,43.40 L220.0,42.47 L221.0,41.63 L222.0,40.88 L223.0,40.23 L224.0,39.67 L225.0,39.20 L226.0,38.83 L227.0,38.55 L228.0,38.37 L229.0,38.29 L230.0,38.30 L231.0,38.42 L232.0,38.63 L233.0,38.94 L234.0,39.36 L235.0,39.87 L236.0,40.49 L237.0,41.22 L238.0,42.05 L239.0,42.98 L240.0,44.02 L241.0,45.16 L242.0,46.41 L243.0,47.76 L244.0,49.19 L245.0,50.70 L246.0,52.29 L247.0,53.94 L248.0,55.65 L249.0,57.41 L250.0,59.21 L251.0,61.05 L252.0,62.92 L253.0,64.82 L254.0,66.77 L255.0,68.77 L256.0,70.83 L257.0,72.95 L258.0,75.15 L259.0,77.44 L260.0,79.81 L261.0,82.29 L262.0,84.87 L263.0,87.56 L264.0,90.38 L265.0,93.33 L266.0,96.41 L267.0,99.59 L268.0,102.83 L269.0,106.06 L270.0,109.23 L271.0,112.28 L272.0,115.16 L273.0,117.84 L274.0,120.34 L275.0,122.70 L276.0,124.93 L277.0,127.06 L278.0,129.11 L279.0,131.11 L280.0,133.08 L281.0,135.05 L282.0,137.04 L283.0,139.08 L284.0,141.18 L285.0,143.37 L286.0,145.63 L287.0,147.95 L288.0,150.32 L289.0,152.74 L290.0,155.19 L291.0,157.66 L292.0,160.14 L293.0,162.63 L294.0,165.12 L295.0,167.59 L296.0,170.03 L297.0,172.44 L298.0,174.80 L299.0,177.11 L300.0,179.36 L301.0,181.53 L302.0,183.64 L303.0,185.67 L304.0,187.64 L305.0,189.54 L306.0,191.39 L307.0,193.17 L308.0,194.89 L309.0,196.56 L310.0,198.17 L311.0,199.74 L312.0,201.25 L313.0,202.72 L314.0,204.14 L315.0,205.52 L316.0,206.86 L317.0,208.17 L318.0,209.44 L319.0,210.67 L320.0,211.87 L321.0,213.05 L322.0,214.20 L323.0,215.32 L324.0,216.42 L325.0,217.50 L326.0,218.56 L327.0,219.61 L328.0,220.64 L329.0,221.66 L330.0,222.66 L331.0,223.64 L332.0,224.61 L333.0,225.56 L334.0,226.50 L335.0,227.41 L336.0,228.32 L337.0,229.20 L338.0,230.07 L339.0,230.92 L340.0,231.75 L341.0,232.57 L342.0,233.37 L343.0,234.15 L344.0,234.92 L345.0,235.67 L346.0,236.40 L347.0,237.11 L348.0,237.80 L349.0,238.48 L350.0,239.14 L351.0,239.78 L352.0,240.40 L353.0,241.01 L354.0,241.59 L355.0,242.16 L356.0,242.71 L357.0,243.24 L358.0,243.75 L359.0,244.25 L360.0,244.72 L361.0,245.18 L362.0,245.61 L363.0,246.03 L364.0,246.43 L365.0,246.81 L366.0,247.17 L367.0,247.51 L368.0,247.83" stroke="#1fa22c" stroke-width="1.5"/></g><rect x="58" y="9" width="310" height="254" fill="none" stroke="#000" stroke-width="2"/><line x1="74.3" y1="262" x2="74.3" y2="260.0" stroke="#000" stroke-width="1.5"/><line x1="106.9" y1="262" x2="106.9" y2="258.0" stroke="#000" stroke-width="1.5"/><line x1="139.6" y1="262" x2="139.6" y2="260.0" stroke="#000" stroke-width="1.5"/><line x1="172.2" y1="262" x2="172.2" y2="258.0" stroke="#000" stroke-width="1.5"/><line x1="204.8" y1="262" x2="204.8" y2="260.0" stroke="#000" stroke-width="1.5"/><line x1="237.5" y1="262" x2="237.5" y2="258.0" stroke="#000" stroke-width="1.5"/><line x1="270.1" y1="262" x2="270.1" y2="260.0" stroke="#000" stroke-width="1.5"/><line x1="302.7" y1="262" x2="302.7" y2="258.0" stroke="#000" stroke-width="1.5"/><line x1="335.4" y1="262" x2="335.4" y2="260.0" stroke="#000" stroke-width="1.5"/><text x="106.9" y="282" text-anchor="middle" font-family="Liberation Serif, serif" font-weight="bold" font-size="16.9">480</text><text x="172.2" y="282" text-anchor="middle" font-family="Liberation Serif, serif" font-weight="bold" font-size="16.9">560</text><text x="237.5" y="282" text-anchor="middle" font-family="Liberation Serif, serif" font-weight="bold" font-size="16.9">640</text><text x="302.7" y="282" text-anchor="middle" font-family="Liberation Serif, serif" font-weight="bold" font-size="16.9">720</text><text x="368.0" y="282" text-anchor="middle" font-family="Liberation Serif, serif" font-weight="bold" font-size="16.9">800</text><text x="213.6" y="305" text-anchor="middle" font-family="Liberation Serif, serif" font-weight="bold" font-size="16.7">Wavelength (nm)</text><text transform="translate(45.5,136.3) rotate(-90)" text-anchor="middle" font-family="Liberation Serif, serif" font-weight="bold" font-size="16.8">PL Intensity (a.u.)</text><text x="60.2" y="26.8" font-family="Liberation Serif, serif" font-weight="bold" font-size="14.2">&#955;<tspan font-size="10" dy="4">ex</tspan><tspan dy="-4">=365 nm</tspan></text><line x1="62.5" y1="41.7" x2="95" y2="41.7" stroke="#ff6a1e" stroke-width="1.8"/><text x="98" y="46.9" font-family="Liberation Serif, serif" font-weight="bold" font-size="14.5">0%</text><line x1="62.5" y1="59.7" x2="95" y2="59.7" stroke="#a6d3ea" stroke-width="1.8"/><text x="98" y="64.9" font-family="Liberation Serif, serif" font-weight="bold" font-size="14.5">2%</text><line x1="62.5" y1="77.6" x2="95" y2="77.6" stroke="#1f78b4" stroke-width="1.8"/><text x="98" y="82.8" font-family="Liberation Serif, serif" font-weight="bold" font-size="14.5">4%</text><line x1="62.5" y1="95.5" x2="95" y2="95.5" stroke="#b2e08a" stroke-width="1.8"/><text x="98" y="100.8" font-family="Liberation Serif, serif" font-weight="bold" font-size="14.5">8%</text><line x1="62.5" y1="113.5" x2="95" y2="113.5" stroke="#1fa22c" stroke-width="1.8"/><text x="98" y="118.7" font-family="Liberation Serif, serif" font-weight="bold" font-size="14.5">12%</text><rect x="447" y="7" width="271" height="259.5" fill="none" stroke="#000" stroke-width="2"/><line x1="468.4" y1="265.5" x2="468.4" y2="263.5" stroke="#000" stroke-width="1.5"/><line x1="504.1" y1="265.5" x2="504.1" y2="261.5" stroke="#000" stroke-width="1.5"/><line x1="539.7" y1="265.5" x2="539.7" y2="263.5" stroke="#000" stroke-width="1.5"/><line x1="575.4" y1="265.5" x2="575.4" y2="261.5" stroke="#000" stroke-width="1.5"/><line x1="611.0" y1="265.5" x2="611.0" y2="263.5" stroke="#000" stroke-width="1.5"/><line x1="646.7" y1="265.5" x2="646.7" y2="261.5" stroke="#000" stroke-width="1.5"/><line x1="682.3" y1="265.5" x2="682.3" y2="263.5" stroke="#000" stroke-width="1.5"/><text x="504.1" y="285" text-anchor="middle" font-family="Liberation Serif, serif" font-weight="bold" font-size="16.8">500</text><text x="575.4" y="285" text-anchor="middle" font-family="Liberation Serif, serif" font-weight="bold" font-size="16.8">600</text><text x="646.7" y="285" text-anchor="middle" font-family="Liberation Serif, serif" font-weight="bold" font-size="16.8">700</text><text x="718.0" y="285" text-anchor="middle" font-family="Liberation Serif, serif" font-weight="bold" font-size="16.8">800</text><line x1="448" y1="234.1" x2="450.0" y2="234.1" stroke="#000" stroke-width="1.5"/><line x1="448" y1="201.6" x2="452.0" y2="201.6" stroke="#000" stroke-width="1.5"/><line x1="448" y1="169.2" x2="450.0" y2="169.2" stroke="#000" stroke-width="1.5"/><line x1="448" y1="136.8" x2="452.0" y2="136.8" stroke="#000" stroke-width="1.5"/><line x1="448" y1="104.3" x2="450.0" y2="104.3" stroke="#000" stroke-width="1.5"/><line x1="448" y1="71.9" x2="452.0" y2="71.9" stroke="#000" stroke-width="1.5"/><line x1="448" y1="39.4" x2="450.0" y2="39.4" stroke="#000" stroke-width="1.5"/><text x="441.5" y="272.3" text-anchor="end" font-family="Liberation Serif, serif" font-weight="bold" font-size="16.8">300</text><text x="441.5" y="207.4" text-anchor="end" font-family="Liberation Serif, serif" font-weight="bold" font-size="16.8">325</text><text x="441.5" y="142.6" text-anchor="end" font-family="Liberation Serif, serif" font-weight="bold" font-size="16.8">350</text><text x="441.5" y="77.7" text-anchor="end" font-family="Liberation Serif, serif" font-weight="bold" font-size="16.8">375</text><text x="441.5" y="12.8" text-anchor="end" font-family="Liberation Serif, serif" font-weight="bold" font-size="16.8">400</text><text x="582.6" y="304.5" text-anchor="middle" font-family="Liberation Serif, serif" font-weight="bold" font-size="16.2">Emission Wavelength (nm)</text><text transform="translate(410.3,127.45) rotate(-90)" text-anchor="middle" font-family="Liberation Serif, serif" font-weight="bold" font-size="16">Excitation wavelength (nm)</text><defs><linearGradient id="cb" x1="0" y1="0" x2="0" y2="1"><stop offset="0" stop-color="#ff0000"/><stop offset="0.5" stop-color="#ffffff"/><stop offset="1" stop-color="#0000ff"/></linearGradient></defs><rect x="722.6" y="6.5" width="21.4" height="259.3" fill="url(#cb)" stroke="#000" stroke-width="2"/><text transform="translate(737.8,125.35) rotate(-90)" text-anchor="middle" font-family="Liberation Serif, serif" font-weight="bold" font-size="16.1">PL Intensity (a.u.)</text></svg></div></body></html>
